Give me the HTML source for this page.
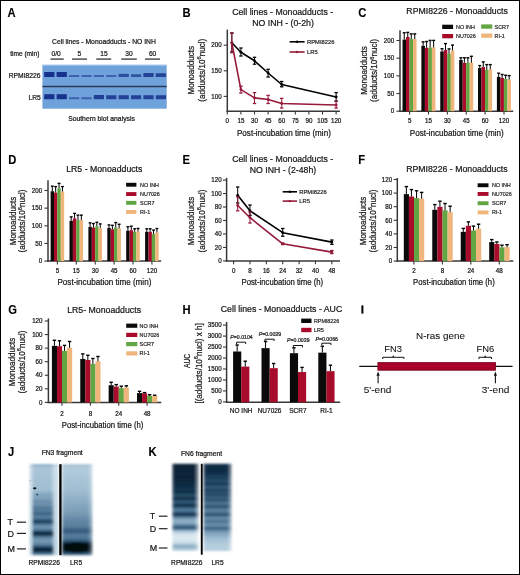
<!DOCTYPE html>
<html><head><meta charset="utf-8"><style>
html,body{margin:0;padding:0;background:#fff;}
body{width:520px;height:575px;overflow:hidden;font-family:"Liberation Sans", sans-serif;}
svg{display:block;will-change:transform;}

</style></head><body>
<svg width="520" height="575" viewBox="0 0 520 575" font-family='"Liberation Sans", sans-serif'>
<defs>
<filter id="bl1" x="-20%" y="-50%" width="140%" height="200%"><feGaussianBlur stdDeviation="0.6"/></filter>
<filter id="bl2" x="-20%" y="-50%" width="140%" height="200%"><feGaussianBlur stdDeviation="1.2"/></filter>
<filter id="bl3" x="-30%" y="-80%" width="160%" height="260%"><feGaussianBlur stdDeviation="2"/></filter>
<filter id="blg" x="-10%" y="-5%" width="120%" height="110%"><feGaussianBlur stdDeviation="0.8"/></filter>
</defs>
<rect x="0" y="0" width="520" height="575" fill="#fff"/>
<text transform="translate(7.6,16.9) scale(0.92,1)" font-size="12.2" text-anchor="start" font-weight="bold" fill="#000" stroke="#000" stroke-width="0.1">A</text>
<text transform="translate(52,43.81) scale(0.97,1)" font-size="7" text-anchor="start" font-weight="normal" fill="#151515" stroke="#151515" stroke-width="0.22">Cell lines - Monoadducts - NO INH</text>
<text transform="translate(10.2,55.71) scale(0.94,1)" font-size="7" text-anchor="start" font-weight="normal" fill="#151515" stroke="#151515" stroke-width="0.22">time (min)</text>
<text transform="translate(56.1,55.71) scale(0.95,1)" font-size="7" text-anchor="middle" font-weight="normal" fill="#151515" stroke="#151515" stroke-width="0.22">0/0</text>
<text transform="translate(79.3,55.71) scale(0.95,1)" font-size="7" text-anchor="middle" font-weight="normal" fill="#151515" stroke="#151515" stroke-width="0.22">5</text>
<text transform="translate(103.9,55.71) scale(0.95,1)" font-size="7" text-anchor="middle" font-weight="normal" fill="#151515" stroke="#151515" stroke-width="0.22">15</text>
<text transform="translate(128.9,55.71) scale(0.95,1)" font-size="7" text-anchor="middle" font-weight="normal" fill="#151515" stroke="#151515" stroke-width="0.22">30</text>
<text transform="translate(152.6,55.71) scale(0.95,1)" font-size="7" text-anchor="middle" font-weight="normal" fill="#151515" stroke="#151515" stroke-width="0.22">60</text>
<line x1="50.5" y1="59.1" x2="63.75" y2="59.1" stroke="#444" stroke-width="1.4"/>
<line x1="72" y1="59.1" x2="87" y2="59.1" stroke="#444" stroke-width="1.4"/>
<line x1="96.25" y1="59.1" x2="111.25" y2="59.1" stroke="#444" stroke-width="1.4"/>
<line x1="121.25" y1="59.1" x2="136.75" y2="59.1" stroke="#444" stroke-width="1.4"/>
<line x1="145" y1="59.1" x2="160" y2="59.1" stroke="#444" stroke-width="1.4"/>
<text transform="translate(8.7,78.01) scale(0.96,1)" font-size="7" text-anchor="start" font-weight="normal" fill="#151515" stroke="#151515" stroke-width="0.22">RPMI8226</text>
<text transform="translate(28.4,100.21) scale(0.96,1)" font-size="7" text-anchor="start" font-weight="normal" fill="#151515" stroke="#151515" stroke-width="0.22">LR5</text>
<text transform="translate(101.5,121.01) scale(0.97,1)" font-size="7" text-anchor="middle" font-weight="normal" fill="#151515" stroke="#151515" stroke-width="0.22">Southern blot analysis</text>
<rect x="42.4" y="64.8" width="124.3" height="43.9" fill="#6fa2db"/>
<rect x="42.4" y="64.8" width="124.3" height="1" fill="#a3c4ee"/>
<line x1="42.4" y1="86.5" x2="166.7" y2="86.5" stroke="#2a3852" stroke-width="1.4"/>
<rect x="44.2" y="72" width="10.2" height="5" fill="#17308c" opacity="1" filter="url(#bl1)"/>
<rect x="44.2" y="94.2" width="10.2" height="5" fill="#17308c" opacity="1" filter="url(#bl1)"/>
<rect x="56.6" y="72" width="10.2" height="5" fill="#17308c" opacity="1" filter="url(#bl1)"/>
<rect x="56.6" y="94.2" width="10.2" height="5" fill="#17308c" opacity="1" filter="url(#bl1)"/>
<rect x="69" y="75.08" width="10.2" height="1.92" fill="#17308c" opacity="0.59" filter="url(#bl1)"/>
<rect x="69" y="97.28" width="10.2" height="1.92" fill="#17308c" opacity="0.59" filter="url(#bl1)"/>
<rect x="81.4" y="75.08" width="10.2" height="1.92" fill="#17308c" opacity="0.59" filter="url(#bl1)"/>
<rect x="81.4" y="97.28" width="10.2" height="1.92" fill="#17308c" opacity="0.59" filter="url(#bl1)"/>
<rect x="93.8" y="75.08" width="10.2" height="1.92" fill="#17308c" opacity="0.59" filter="url(#bl1)"/>
<rect x="93.8" y="95.02" width="10.2" height="4.18" fill="#17308c" opacity="0.89" filter="url(#bl1)"/>
<rect x="106.2" y="75.08" width="10.2" height="1.92" fill="#17308c" opacity="0.59" filter="url(#bl1)"/>
<rect x="106.2" y="95.23" width="10.2" height="3.97" fill="#17308c" opacity="0.86" filter="url(#bl1)"/>
<rect x="118.6" y="73.84" width="10.2" height="3.15" fill="#17308c" opacity="0.75" filter="url(#bl1)"/>
<rect x="118.6" y="95.23" width="10.2" height="3.97" fill="#17308c" opacity="0.86" filter="url(#bl1)"/>
<rect x="131" y="74.25" width="10.2" height="2.75" fill="#17308c" opacity="0.7" filter="url(#bl1)"/>
<rect x="131" y="95.23" width="10.2" height="3.97" fill="#17308c" opacity="0.86" filter="url(#bl1)"/>
<rect x="143.4" y="73.03" width="10.2" height="3.97" fill="#17308c" opacity="0.86" filter="url(#bl1)"/>
<rect x="143.4" y="95.23" width="10.2" height="3.97" fill="#17308c" opacity="0.86" filter="url(#bl1)"/>
<rect x="155.8" y="73.23" width="10.2" height="3.77" fill="#17308c" opacity="0.83" filter="url(#bl1)"/>
<rect x="155.8" y="95.23" width="10.2" height="3.97" fill="#17308c" opacity="0.86" filter="url(#bl1)"/>
<text transform="translate(182.6,16.8) scale(0.92,1)" font-size="12.2" text-anchor="start" font-weight="bold" fill="#000" stroke="#000" stroke-width="0.1">B</text>
<text transform="translate(282.7,14.96) scale(0.95,1)" font-size="9.2" text-anchor="middle" font-weight="normal" fill="#151515" stroke="#151515" stroke-width="0.22">Cell lines - Monoadducts -</text>
<text transform="translate(283,26.06) scale(0.95,1)" font-size="9.2" text-anchor="middle" font-weight="normal" fill="#151515" stroke="#151515" stroke-width="0.22">NO INH - (0-2h)</text>
<text transform="translate(194.49,70.2) rotate(-90) scale(0.93,1)" font-size="8.7" text-anchor="middle" fill="#151515" stroke="#151515" stroke-width="0.22">Monoadducts</text>
<text transform="translate(204.59,70.2) rotate(-90) scale(0.93,1)" font-size="8.7" text-anchor="middle" fill="#151515" stroke="#151515" stroke-width="0.22">(adducts/10<tspan font-size="6.09" dy="-3.31">6</tspan><tspan dy="3.31">nucl)</tspan></text>
<line x1="227.3" y1="29.6" x2="227.3" y2="111.95" stroke="#383838" stroke-width="1.5"/>
<line x1="223.7" y1="96.4" x2="227.3" y2="96.4" stroke="#383838" stroke-width="1.1"/>
<text transform="translate(221.6,98.6) scale(0.97,1)" font-size="6.4" text-anchor="end" font-weight="normal" fill="#151515" stroke="#151515" stroke-width="0.22">100</text>
<line x1="223.7" y1="70.8" x2="227.3" y2="70.8" stroke="#383838" stroke-width="1.1"/>
<text transform="translate(221.6,73) scale(0.97,1)" font-size="6.4" text-anchor="end" font-weight="normal" fill="#151515" stroke="#151515" stroke-width="0.22">150</text>
<line x1="223.7" y1="45.2" x2="227.3" y2="45.2" stroke="#383838" stroke-width="1.1"/>
<text transform="translate(221.6,47.4) scale(0.97,1)" font-size="6.4" text-anchor="end" font-weight="normal" fill="#151515" stroke="#151515" stroke-width="0.22">200</text>
<line x1="226.55" y1="111.2" x2="339.9" y2="111.2" stroke="#383838" stroke-width="1.5"/>
<line x1="227.3" y1="111.2" x2="227.3" y2="114.5" stroke="#383838" stroke-width="1.1"/>
<text transform="translate(227.3,122.8) scale(0.97,1)" font-size="6.4" text-anchor="middle" font-weight="normal" fill="#151515" stroke="#151515" stroke-width="0.22">0</text>
<line x1="240.91" y1="111.2" x2="240.91" y2="114.5" stroke="#383838" stroke-width="1.1"/>
<text transform="translate(240.91,122.8) scale(0.97,1)" font-size="6.4" text-anchor="middle" font-weight="normal" fill="#151515" stroke="#151515" stroke-width="0.22">15</text>
<line x1="254.51" y1="111.2" x2="254.51" y2="114.5" stroke="#383838" stroke-width="1.1"/>
<text transform="translate(254.51,122.8) scale(0.97,1)" font-size="6.4" text-anchor="middle" font-weight="normal" fill="#151515" stroke="#151515" stroke-width="0.22">30</text>
<line x1="268.12" y1="111.2" x2="268.12" y2="114.5" stroke="#383838" stroke-width="1.1"/>
<text transform="translate(268.12,122.8) scale(0.97,1)" font-size="6.4" text-anchor="middle" font-weight="normal" fill="#151515" stroke="#151515" stroke-width="0.22">45</text>
<line x1="281.72" y1="111.2" x2="281.72" y2="114.5" stroke="#383838" stroke-width="1.1"/>
<text transform="translate(281.72,122.8) scale(0.97,1)" font-size="6.4" text-anchor="middle" font-weight="normal" fill="#151515" stroke="#151515" stroke-width="0.22">60</text>
<line x1="295.33" y1="111.2" x2="295.33" y2="114.5" stroke="#383838" stroke-width="1.1"/>
<text transform="translate(295.33,122.8) scale(0.97,1)" font-size="6.4" text-anchor="middle" font-weight="normal" fill="#151515" stroke="#151515" stroke-width="0.22">75</text>
<line x1="308.93" y1="111.2" x2="308.93" y2="114.5" stroke="#383838" stroke-width="1.1"/>
<text transform="translate(308.93,122.8) scale(0.97,1)" font-size="6.4" text-anchor="middle" font-weight="normal" fill="#151515" stroke="#151515" stroke-width="0.22">90</text>
<line x1="322.54" y1="111.2" x2="322.54" y2="114.5" stroke="#383838" stroke-width="1.1"/>
<text transform="translate(322.54,122.8) scale(0.97,1)" font-size="6.4" text-anchor="middle" font-weight="normal" fill="#151515" stroke="#151515" stroke-width="0.22">105</text>
<line x1="336.14" y1="111.2" x2="336.14" y2="114.5" stroke="#383838" stroke-width="1.1"/>
<text transform="translate(336.14,122.8) scale(0.97,1)" font-size="6.4" text-anchor="middle" font-weight="normal" fill="#151515" stroke="#151515" stroke-width="0.22">120</text>
<text transform="translate(283.9,135.69) scale(0.93,1)" font-size="8.7" text-anchor="middle" font-weight="normal" fill="#151515" stroke="#151515" stroke-width="0.22">Post-incubation time (min)</text>
<polyline points="231.84,42.8 240.91,52.2 254.51,60.8 268.12,73 281.72,84.5 336.14,97" fill="none" stroke="#000" stroke-width="1.6" stroke-linejoin="round"/>
<line x1="231.84" y1="33" x2="231.84" y2="52" stroke="#000" stroke-width="1"/>
<line x1="230.14" y1="33" x2="233.53" y2="33" stroke="#000" stroke-width="1.3"/>
<line x1="230.14" y1="52" x2="233.53" y2="52" stroke="#000" stroke-width="1.3"/>
<circle cx="231.84" cy="42.8" r="1.4" fill="#000"/>
<line x1="240.91" y1="48" x2="240.91" y2="56" stroke="#000" stroke-width="1"/>
<line x1="239.21" y1="48" x2="242.6" y2="48" stroke="#000" stroke-width="1.3"/>
<line x1="239.21" y1="56" x2="242.6" y2="56" stroke="#000" stroke-width="1.3"/>
<circle cx="240.91" cy="52.2" r="1.4" fill="#000"/>
<line x1="254.51" y1="57.3" x2="254.51" y2="64.2" stroke="#000" stroke-width="1"/>
<line x1="252.81" y1="57.3" x2="256.21" y2="57.3" stroke="#000" stroke-width="1.3"/>
<line x1="252.81" y1="64.2" x2="256.21" y2="64.2" stroke="#000" stroke-width="1.3"/>
<circle cx="254.51" cy="60.8" r="1.4" fill="#000"/>
<line x1="268.12" y1="69.3" x2="268.12" y2="77" stroke="#000" stroke-width="1"/>
<line x1="266.42" y1="69.3" x2="269.81" y2="69.3" stroke="#000" stroke-width="1.3"/>
<line x1="266.42" y1="77" x2="269.81" y2="77" stroke="#000" stroke-width="1.3"/>
<circle cx="268.12" cy="73" r="1.4" fill="#000"/>
<line x1="281.72" y1="81.5" x2="281.72" y2="86.8" stroke="#000" stroke-width="1"/>
<line x1="280.02" y1="81.5" x2="283.42" y2="81.5" stroke="#000" stroke-width="1.3"/>
<line x1="280.02" y1="86.8" x2="283.42" y2="86.8" stroke="#000" stroke-width="1.3"/>
<circle cx="281.72" cy="84.5" r="1.4" fill="#000"/>
<line x1="336.14" y1="92.6" x2="336.14" y2="101.2" stroke="#000" stroke-width="1"/>
<line x1="334.44" y1="92.6" x2="337.84" y2="92.6" stroke="#000" stroke-width="1.3"/>
<line x1="334.44" y1="101.2" x2="337.84" y2="101.2" stroke="#000" stroke-width="1.3"/>
<circle cx="336.14" cy="97" r="1.4" fill="#000"/>
<polyline points="231.84,42.8 240.91,89.6 254.51,97.9 268.12,99.5 281.72,103.5 336.14,105" fill="none" stroke="#951a3a" stroke-width="1.6" stroke-linejoin="round"/>
<line x1="231.84" y1="33" x2="231.84" y2="52.7" stroke="#951a3a" stroke-width="1"/>
<line x1="230.14" y1="33" x2="233.53" y2="33" stroke="#951a3a" stroke-width="1.3"/>
<line x1="230.14" y1="52.7" x2="233.53" y2="52.7" stroke="#951a3a" stroke-width="1.3"/>
<circle cx="231.84" cy="42.8" r="1.4" fill="#951a3a"/>
<line x1="240.91" y1="86.2" x2="240.91" y2="93" stroke="#951a3a" stroke-width="1"/>
<line x1="239.21" y1="86.2" x2="242.6" y2="86.2" stroke="#951a3a" stroke-width="1.3"/>
<line x1="239.21" y1="93" x2="242.6" y2="93" stroke="#951a3a" stroke-width="1.3"/>
<circle cx="240.91" cy="89.6" r="1.4" fill="#951a3a"/>
<line x1="254.51" y1="92.6" x2="254.51" y2="103.5" stroke="#951a3a" stroke-width="1"/>
<line x1="252.81" y1="92.6" x2="256.21" y2="92.6" stroke="#951a3a" stroke-width="1.3"/>
<line x1="252.81" y1="103.5" x2="256.21" y2="103.5" stroke="#951a3a" stroke-width="1.3"/>
<circle cx="254.51" cy="97.9" r="1.4" fill="#951a3a"/>
<line x1="268.12" y1="95.4" x2="268.12" y2="103.5" stroke="#951a3a" stroke-width="1"/>
<line x1="266.42" y1="95.4" x2="269.81" y2="95.4" stroke="#951a3a" stroke-width="1.3"/>
<line x1="266.42" y1="103.5" x2="269.81" y2="103.5" stroke="#951a3a" stroke-width="1.3"/>
<circle cx="268.12" cy="99.5" r="1.4" fill="#951a3a"/>
<line x1="281.72" y1="98.4" x2="281.72" y2="108" stroke="#951a3a" stroke-width="1"/>
<line x1="280.02" y1="98.4" x2="283.42" y2="98.4" stroke="#951a3a" stroke-width="1.3"/>
<line x1="280.02" y1="108" x2="283.42" y2="108" stroke="#951a3a" stroke-width="1.3"/>
<circle cx="281.72" cy="103.5" r="1.4" fill="#951a3a"/>
<line x1="336.14" y1="101.2" x2="336.14" y2="108" stroke="#951a3a" stroke-width="1"/>
<line x1="334.44" y1="101.2" x2="337.84" y2="101.2" stroke="#951a3a" stroke-width="1.3"/>
<line x1="334.44" y1="108" x2="337.84" y2="108" stroke="#951a3a" stroke-width="1.3"/>
<circle cx="336.14" cy="105" r="1.4" fill="#951a3a"/>
<line x1="289.6" y1="41.8" x2="304.6" y2="41.8" stroke="#000" stroke-width="1.6"/>
<circle cx="297.1" cy="41.8" r="1.2" fill="#000"/>
<text transform="translate(307,43.8) scale(1,1)" font-size="5.8" text-anchor="start" font-weight="normal" fill="#2a2a2a" stroke="#2a2a2a" stroke-width="0.22">RPMI8226</text>
<line x1="289.6" y1="52" x2="304.6" y2="52" stroke="#951a3a" stroke-width="1.6"/>
<circle cx="297.1" cy="52" r="1.2" fill="#951a3a"/>
<text transform="translate(307,54) scale(1,1)" font-size="5.8" text-anchor="start" font-weight="normal" fill="#2a2a2a" stroke="#2a2a2a" stroke-width="0.22">LR5</text>
<text transform="translate(358.3,16.8) scale(0.92,1)" font-size="12.2" text-anchor="start" font-weight="bold" fill="#000" stroke="#000" stroke-width="0.1">C</text>
<text transform="translate(457.1,14.26) scale(0.95,1)" font-size="9.2" text-anchor="middle" font-weight="normal" fill="#151515" stroke="#151515" stroke-width="0.22">RPMI8226 - Monoadducts</text>
<rect x="442.2" y="24.7" width="10.9" height="4.3" fill="#0a0a0a"/>
<text transform="translate(456,28.85) scale(0.93,1)" font-size="5.8" text-anchor="start" font-weight="normal" fill="#2a2a2a" stroke="#2a2a2a" stroke-width="0.22">NO INH</text>
<rect x="442.2" y="34" width="10.9" height="4.3" fill="#a80c2a"/>
<text transform="translate(456,38.15) scale(0.93,1)" font-size="5.8" text-anchor="start" font-weight="normal" fill="#2a2a2a" stroke="#2a2a2a" stroke-width="0.22">NU7026</text>
<rect x="481.2" y="24.4" width="11.1" height="4.3" fill="#62a644"/>
<text transform="translate(494.6,28.6) scale(0.93,1)" font-size="5.8" text-anchor="start" font-weight="normal" fill="#2a2a2a" stroke="#2a2a2a" stroke-width="0.22">SCR7</text>
<rect x="481.2" y="33.5" width="11.1" height="4.3" fill="#efb57a"/>
<text transform="translate(494.6,37.7) scale(0.93,1)" font-size="5.8" text-anchor="start" font-weight="normal" fill="#2a2a2a" stroke="#2a2a2a" stroke-width="0.22">RI-1</text>
<text transform="translate(367.09,70.5) rotate(-90) scale(0.93,1)" font-size="8.7" text-anchor="middle" fill="#151515" stroke="#151515" stroke-width="0.22">Monoadducts</text>
<text transform="translate(377.29,70.5) rotate(-90) scale(0.93,1)" font-size="8.7" text-anchor="middle" fill="#151515" stroke="#151515" stroke-width="0.22">(adducts/10<tspan font-size="6.09" dy="-3.31">6</tspan><tspan dy="3.31">nucl)</tspan></text>
<line x1="400" y1="30.2" x2="400" y2="111.95" stroke="#383838" stroke-width="1.5"/>
<line x1="396.4" y1="111.2" x2="400" y2="111.2" stroke="#383838" stroke-width="1.1"/>
<text transform="translate(394.2,113.4) scale(0.97,1)" font-size="6.4" text-anchor="end" font-weight="normal" fill="#151515" stroke="#151515" stroke-width="0.22">0</text>
<line x1="396.4" y1="93.53" x2="400" y2="93.53" stroke="#383838" stroke-width="1.1"/>
<text transform="translate(394.2,95.73) scale(0.97,1)" font-size="6.4" text-anchor="end" font-weight="normal" fill="#151515" stroke="#151515" stroke-width="0.22">50</text>
<line x1="396.4" y1="75.85" x2="400" y2="75.85" stroke="#383838" stroke-width="1.1"/>
<text transform="translate(394.2,78.05) scale(0.97,1)" font-size="6.4" text-anchor="end" font-weight="normal" fill="#151515" stroke="#151515" stroke-width="0.22">100</text>
<line x1="396.4" y1="58.18" x2="400" y2="58.18" stroke="#383838" stroke-width="1.1"/>
<text transform="translate(394.2,60.38) scale(0.97,1)" font-size="6.4" text-anchor="end" font-weight="normal" fill="#151515" stroke="#151515" stroke-width="0.22">150</text>
<line x1="396.4" y1="40.5" x2="400" y2="40.5" stroke="#383838" stroke-width="1.1"/>
<text transform="translate(394.2,42.7) scale(0.97,1)" font-size="6.4" text-anchor="end" font-weight="normal" fill="#151515" stroke="#151515" stroke-width="0.22">200</text>
<line x1="399.25" y1="111.2" x2="513.2" y2="111.2" stroke="#383838" stroke-width="1.5"/>
<line x1="409.6" y1="111.2" x2="409.6" y2="114.5" stroke="#383838" stroke-width="1.1"/>
<text transform="translate(409.6,123.2) scale(0.97,1)" font-size="6.4" text-anchor="middle" font-weight="normal" fill="#151515" stroke="#151515" stroke-width="0.22">5</text>
<line x1="428.48" y1="111.2" x2="428.48" y2="114.5" stroke="#383838" stroke-width="1.1"/>
<text transform="translate(428.48,123.2) scale(0.97,1)" font-size="6.4" text-anchor="middle" font-weight="normal" fill="#151515" stroke="#151515" stroke-width="0.22">15</text>
<line x1="447.36" y1="111.2" x2="447.36" y2="114.5" stroke="#383838" stroke-width="1.1"/>
<text transform="translate(447.36,123.2) scale(0.97,1)" font-size="6.4" text-anchor="middle" font-weight="normal" fill="#151515" stroke="#151515" stroke-width="0.22">30</text>
<line x1="466.24" y1="111.2" x2="466.24" y2="114.5" stroke="#383838" stroke-width="1.1"/>
<text transform="translate(466.24,123.2) scale(0.97,1)" font-size="6.4" text-anchor="middle" font-weight="normal" fill="#151515" stroke="#151515" stroke-width="0.22">45</text>
<line x1="485.12" y1="111.2" x2="485.12" y2="114.5" stroke="#383838" stroke-width="1.1"/>
<text transform="translate(485.12,123.2) scale(0.97,1)" font-size="6.4" text-anchor="middle" font-weight="normal" fill="#151515" stroke="#151515" stroke-width="0.22">60</text>
<line x1="504" y1="111.2" x2="504" y2="114.5" stroke="#383838" stroke-width="1.1"/>
<text transform="translate(504,123.2) scale(0.97,1)" font-size="6.4" text-anchor="middle" font-weight="normal" fill="#151515" stroke="#151515" stroke-width="0.22">120</text>
<text transform="translate(456.8,135.69) scale(0.93,1)" font-size="8.7" text-anchor="middle" font-weight="normal" fill="#151515" stroke="#151515" stroke-width="0.22">Post-incubation time (min)</text>
<rect x="402.5" y="39.62" width="3.55" height="71.58" fill="#0a0a0a"/>
<line x1="404.25" y1="32.8" x2="404.25" y2="39.62" stroke="#000" stroke-width="1"/>
<line x1="402.76" y1="32.8" x2="405.74" y2="32.8" stroke="#000" stroke-width="1.4"/>
<rect x="406" y="36.97" width="3.55" height="74.23" fill="#a80c2a"/>
<line x1="407.75" y1="32.4" x2="407.75" y2="36.97" stroke="#000" stroke-width="1"/>
<line x1="406.26" y1="32.4" x2="409.24" y2="32.4" stroke="#000" stroke-width="1.4"/>
<rect x="409.5" y="39.09" width="3.55" height="72.11" fill="#62a644"/>
<line x1="411.25" y1="33.9" x2="411.25" y2="39.09" stroke="#000" stroke-width="1"/>
<line x1="409.76" y1="33.9" x2="412.74" y2="33.9" stroke="#000" stroke-width="1.4"/>
<rect x="413" y="39.09" width="3.55" height="72.11" fill="#efb57a"/>
<line x1="414.75" y1="33.9" x2="414.75" y2="39.09" stroke="#000" stroke-width="1"/>
<line x1="413.26" y1="33.9" x2="416.24" y2="33.9" stroke="#000" stroke-width="1.4"/>
<rect x="421.38" y="45.8" width="3.55" height="65.4" fill="#0a0a0a"/>
<line x1="423.13" y1="41.9" x2="423.13" y2="45.8" stroke="#000" stroke-width="1"/>
<line x1="421.64" y1="41.9" x2="424.62" y2="41.9" stroke="#000" stroke-width="1.4"/>
<rect x="424.88" y="47.92" width="3.55" height="63.28" fill="#a80c2a"/>
<line x1="426.63" y1="41.5" x2="426.63" y2="47.92" stroke="#000" stroke-width="1"/>
<line x1="425.14" y1="41.5" x2="428.12" y2="41.5" stroke="#000" stroke-width="1.4"/>
<rect x="428.38" y="47.57" width="3.55" height="63.63" fill="#62a644"/>
<line x1="430.13" y1="40.4" x2="430.13" y2="47.57" stroke="#000" stroke-width="1"/>
<line x1="428.64" y1="40.4" x2="431.62" y2="40.4" stroke="#000" stroke-width="1.4"/>
<rect x="431.88" y="47.57" width="3.55" height="63.63" fill="#efb57a"/>
<line x1="433.63" y1="40.4" x2="433.63" y2="47.57" stroke="#000" stroke-width="1"/>
<line x1="432.14" y1="40.4" x2="435.12" y2="40.4" stroke="#000" stroke-width="1.4"/>
<rect x="440.26" y="51.46" width="3.55" height="59.74" fill="#0a0a0a"/>
<line x1="442.01" y1="48.7" x2="442.01" y2="51.46" stroke="#000" stroke-width="1"/>
<line x1="440.52" y1="48.7" x2="443.5" y2="48.7" stroke="#000" stroke-width="1.4"/>
<rect x="443.76" y="50.04" width="3.55" height="61.16" fill="#a80c2a"/>
<line x1="445.51" y1="43.6" x2="445.51" y2="50.04" stroke="#000" stroke-width="1"/>
<line x1="444.02" y1="43.6" x2="447" y2="43.6" stroke="#000" stroke-width="1.4"/>
<rect x="447.26" y="53.93" width="3.55" height="57.27" fill="#62a644"/>
<line x1="449.01" y1="48.9" x2="449.01" y2="53.93" stroke="#000" stroke-width="1"/>
<line x1="447.52" y1="48.9" x2="450.5" y2="48.9" stroke="#000" stroke-width="1.4"/>
<rect x="450.76" y="50.4" width="3.55" height="60.8" fill="#efb57a"/>
<line x1="452.51" y1="45.1" x2="452.51" y2="50.4" stroke="#000" stroke-width="1"/>
<line x1="451.02" y1="45.1" x2="454" y2="45.1" stroke="#000" stroke-width="1.4"/>
<rect x="459.14" y="59.94" width="3.55" height="51.26" fill="#0a0a0a"/>
<line x1="460.89" y1="57.8" x2="460.89" y2="59.94" stroke="#000" stroke-width="1"/>
<line x1="459.4" y1="57.8" x2="462.38" y2="57.8" stroke="#000" stroke-width="1.4"/>
<rect x="462.64" y="62.77" width="3.55" height="48.43" fill="#a80c2a"/>
<line x1="464.39" y1="57.8" x2="464.39" y2="62.77" stroke="#000" stroke-width="1"/>
<line x1="462.9" y1="57.8" x2="465.88" y2="57.8" stroke="#000" stroke-width="1.4"/>
<rect x="466.14" y="62.77" width="3.55" height="48.43" fill="#62a644"/>
<line x1="467.89" y1="57.8" x2="467.89" y2="62.77" stroke="#000" stroke-width="1"/>
<line x1="466.4" y1="57.8" x2="469.38" y2="57.8" stroke="#000" stroke-width="1.4"/>
<rect x="469.64" y="62.77" width="3.55" height="48.43" fill="#efb57a"/>
<line x1="471.39" y1="56.3" x2="471.39" y2="62.77" stroke="#000" stroke-width="1"/>
<line x1="469.9" y1="56.3" x2="472.88" y2="56.3" stroke="#000" stroke-width="1.4"/>
<rect x="478.02" y="68.07" width="3.55" height="43.13" fill="#0a0a0a"/>
<line x1="479.77" y1="65.6" x2="479.77" y2="68.07" stroke="#000" stroke-width="1"/>
<line x1="478.28" y1="65.6" x2="481.26" y2="65.6" stroke="#000" stroke-width="1.4"/>
<rect x="481.52" y="67.01" width="3.55" height="44.19" fill="#a80c2a"/>
<line x1="483.27" y1="61.9" x2="483.27" y2="67.01" stroke="#000" stroke-width="1"/>
<line x1="481.78" y1="61.9" x2="484.76" y2="61.9" stroke="#000" stroke-width="1.4"/>
<rect x="485.02" y="69.84" width="3.55" height="41.36" fill="#62a644"/>
<line x1="486.77" y1="64.6" x2="486.77" y2="69.84" stroke="#000" stroke-width="1"/>
<line x1="485.28" y1="64.6" x2="488.26" y2="64.6" stroke="#000" stroke-width="1.4"/>
<rect x="488.52" y="69.49" width="3.55" height="41.71" fill="#efb57a"/>
<line x1="490.27" y1="64.6" x2="490.27" y2="69.49" stroke="#000" stroke-width="1"/>
<line x1="488.78" y1="64.6" x2="491.76" y2="64.6" stroke="#000" stroke-width="1.4"/>
<rect x="496.9" y="76.91" width="3.55" height="34.29" fill="#0a0a0a"/>
<line x1="498.65" y1="73.2" x2="498.65" y2="76.91" stroke="#000" stroke-width="1"/>
<line x1="497.16" y1="73.2" x2="500.14" y2="73.2" stroke="#000" stroke-width="1.4"/>
<rect x="500.4" y="77.97" width="3.55" height="33.23" fill="#a80c2a"/>
<line x1="502.15" y1="74.5" x2="502.15" y2="77.97" stroke="#000" stroke-width="1"/>
<line x1="500.66" y1="74.5" x2="503.64" y2="74.5" stroke="#000" stroke-width="1.4"/>
<rect x="503.9" y="79.03" width="3.55" height="32.17" fill="#62a644"/>
<line x1="505.65" y1="75.3" x2="505.65" y2="79.03" stroke="#000" stroke-width="1"/>
<line x1="504.16" y1="75.3" x2="507.14" y2="75.3" stroke="#000" stroke-width="1.4"/>
<rect x="507.4" y="79.74" width="3.55" height="31.46" fill="#efb57a"/>
<line x1="509.15" y1="75.6" x2="509.15" y2="79.74" stroke="#000" stroke-width="1"/>
<line x1="507.66" y1="75.6" x2="510.64" y2="75.6" stroke="#000" stroke-width="1.4"/>
<text transform="translate(8.2,164.2) scale(0.92,1)" font-size="12.2" text-anchor="start" font-weight="bold" fill="#000" stroke="#000" stroke-width="0.1">D</text>
<text transform="translate(104.3,172.36) scale(0.95,1)" font-size="9.2" text-anchor="middle" font-weight="normal" fill="#151515" stroke="#151515" stroke-width="0.22">LR5 - Monoadducts</text>
<rect x="126.1" y="182.8" width="10.3" height="3.9" fill="#0a0a0a"/>
<text transform="translate(140.1,186.75) scale(0.93,1)" font-size="5.8" text-anchor="start" font-weight="normal" fill="#2a2a2a" stroke="#2a2a2a" stroke-width="0.22">NO INH</text>
<rect x="126.1" y="192.1" width="10.3" height="3.9" fill="#a80c2a"/>
<text transform="translate(140.1,196.05) scale(0.93,1)" font-size="5.8" text-anchor="start" font-weight="normal" fill="#2a2a2a" stroke="#2a2a2a" stroke-width="0.22">NU7026</text>
<rect x="126.1" y="200.9" width="10.3" height="3.9" fill="#62a644"/>
<text transform="translate(140.1,204.85) scale(0.93,1)" font-size="5.8" text-anchor="start" font-weight="normal" fill="#2a2a2a" stroke="#2a2a2a" stroke-width="0.22">SCR7</text>
<rect x="126.1" y="210" width="10.3" height="3.9" fill="#efb57a"/>
<text transform="translate(140.1,213.95) scale(0.93,1)" font-size="5.8" text-anchor="start" font-weight="normal" fill="#2a2a2a" stroke="#2a2a2a" stroke-width="0.22">RI-1</text>
<text transform="translate(15.79,221) rotate(-90) scale(0.93,1)" font-size="8.7" text-anchor="middle" fill="#151515" stroke="#151515" stroke-width="0.22">Monoadducts</text>
<text transform="translate(25.19,221) rotate(-90) scale(0.93,1)" font-size="8.7" text-anchor="middle" fill="#151515" stroke="#151515" stroke-width="0.22">(adducts/10<tspan font-size="6.09" dy="-3.31">6</tspan><tspan dy="3.31">nucl)</tspan></text>
<line x1="48" y1="180.3" x2="48" y2="261.85" stroke="#383838" stroke-width="1.5"/>
<line x1="44.4" y1="261.1" x2="48" y2="261.1" stroke="#383838" stroke-width="1.1"/>
<text transform="translate(42.2,263.3) scale(0.97,1)" font-size="6.4" text-anchor="end" font-weight="normal" fill="#151515" stroke="#151515" stroke-width="0.22">0</text>
<line x1="44.4" y1="243.45" x2="48" y2="243.45" stroke="#383838" stroke-width="1.1"/>
<text transform="translate(42.2,245.65) scale(0.97,1)" font-size="6.4" text-anchor="end" font-weight="normal" fill="#151515" stroke="#151515" stroke-width="0.22">50</text>
<line x1="44.4" y1="225.8" x2="48" y2="225.8" stroke="#383838" stroke-width="1.1"/>
<text transform="translate(42.2,228) scale(0.97,1)" font-size="6.4" text-anchor="end" font-weight="normal" fill="#151515" stroke="#151515" stroke-width="0.22">100</text>
<line x1="44.4" y1="208.15" x2="48" y2="208.15" stroke="#383838" stroke-width="1.1"/>
<text transform="translate(42.2,210.35) scale(0.97,1)" font-size="6.4" text-anchor="end" font-weight="normal" fill="#151515" stroke="#151515" stroke-width="0.22">150</text>
<line x1="44.4" y1="190.5" x2="48" y2="190.5" stroke="#383838" stroke-width="1.1"/>
<text transform="translate(42.2,192.7) scale(0.97,1)" font-size="6.4" text-anchor="end" font-weight="normal" fill="#151515" stroke="#151515" stroke-width="0.22">200</text>
<line x1="47.25" y1="261.1" x2="161.1" y2="261.1" stroke="#383838" stroke-width="1.5"/>
<line x1="57.4" y1="261.1" x2="57.4" y2="264.4" stroke="#383838" stroke-width="1.1"/>
<text transform="translate(57.4,273) scale(0.97,1)" font-size="6.4" text-anchor="middle" font-weight="normal" fill="#151515" stroke="#151515" stroke-width="0.22">5</text>
<line x1="76.3" y1="261.1" x2="76.3" y2="264.4" stroke="#383838" stroke-width="1.1"/>
<text transform="translate(76.3,273) scale(0.97,1)" font-size="6.4" text-anchor="middle" font-weight="normal" fill="#151515" stroke="#151515" stroke-width="0.22">15</text>
<line x1="95.2" y1="261.1" x2="95.2" y2="264.4" stroke="#383838" stroke-width="1.1"/>
<text transform="translate(95.2,273) scale(0.97,1)" font-size="6.4" text-anchor="middle" font-weight="normal" fill="#151515" stroke="#151515" stroke-width="0.22">30</text>
<line x1="114.1" y1="261.1" x2="114.1" y2="264.4" stroke="#383838" stroke-width="1.1"/>
<text transform="translate(114.1,273) scale(0.97,1)" font-size="6.4" text-anchor="middle" font-weight="normal" fill="#151515" stroke="#151515" stroke-width="0.22">45</text>
<line x1="133" y1="261.1" x2="133" y2="264.4" stroke="#383838" stroke-width="1.1"/>
<text transform="translate(133,273) scale(0.97,1)" font-size="6.4" text-anchor="middle" font-weight="normal" fill="#151515" stroke="#151515" stroke-width="0.22">60</text>
<line x1="151.9" y1="261.1" x2="151.9" y2="264.4" stroke="#383838" stroke-width="1.1"/>
<text transform="translate(151.9,273) scale(0.97,1)" font-size="6.4" text-anchor="middle" font-weight="normal" fill="#151515" stroke="#151515" stroke-width="0.22">120</text>
<text transform="translate(104.4,284.99) scale(0.93,1)" font-size="8.7" text-anchor="middle" font-weight="normal" fill="#151515" stroke="#151515" stroke-width="0.22">Post-incubation time (min)</text>
<rect x="50.6" y="191.21" width="3.43" height="69.89" fill="#0a0a0a"/>
<line x1="52.29" y1="186.21" x2="52.29" y2="191.21" stroke="#000" stroke-width="1"/>
<line x1="50.85" y1="186.21" x2="53.73" y2="186.21" stroke="#000" stroke-width="1.4"/>
<rect x="53.98" y="192.62" width="3.43" height="68.48" fill="#a80c2a"/>
<line x1="55.67" y1="186.62" x2="55.67" y2="192.62" stroke="#000" stroke-width="1"/>
<line x1="54.23" y1="186.62" x2="57.11" y2="186.62" stroke="#000" stroke-width="1.4"/>
<rect x="57.36" y="188.38" width="3.43" height="72.72" fill="#62a644"/>
<line x1="59.05" y1="183.38" x2="59.05" y2="188.38" stroke="#000" stroke-width="1"/>
<line x1="57.61" y1="183.38" x2="60.49" y2="183.38" stroke="#000" stroke-width="1.4"/>
<rect x="60.74" y="191.56" width="3.43" height="69.54" fill="#efb57a"/>
<line x1="62.43" y1="186.56" x2="62.43" y2="191.56" stroke="#000" stroke-width="1"/>
<line x1="60.99" y1="186.56" x2="63.87" y2="186.56" stroke="#000" stroke-width="1.4"/>
<rect x="69.5" y="220.86" width="3.43" height="40.24" fill="#0a0a0a"/>
<line x1="71.19" y1="216.86" x2="71.19" y2="220.86" stroke="#000" stroke-width="1"/>
<line x1="69.75" y1="216.86" x2="72.63" y2="216.86" stroke="#000" stroke-width="1.4"/>
<rect x="72.88" y="218.39" width="3.43" height="42.71" fill="#a80c2a"/>
<line x1="74.57" y1="213.39" x2="74.57" y2="218.39" stroke="#000" stroke-width="1"/>
<line x1="73.13" y1="213.39" x2="76.01" y2="213.39" stroke="#000" stroke-width="1.4"/>
<rect x="76.26" y="220.15" width="3.43" height="40.95" fill="#62a644"/>
<line x1="77.95" y1="215.15" x2="77.95" y2="220.15" stroke="#000" stroke-width="1"/>
<line x1="76.51" y1="215.15" x2="79.39" y2="215.15" stroke="#000" stroke-width="1.4"/>
<rect x="79.64" y="220.15" width="3.43" height="40.95" fill="#efb57a"/>
<line x1="81.33" y1="215.15" x2="81.33" y2="220.15" stroke="#000" stroke-width="1"/>
<line x1="79.89" y1="215.15" x2="82.77" y2="215.15" stroke="#000" stroke-width="1.4"/>
<rect x="88.4" y="226.86" width="3.43" height="34.24" fill="#0a0a0a"/>
<line x1="90.09" y1="222.86" x2="90.09" y2="226.86" stroke="#000" stroke-width="1"/>
<line x1="88.65" y1="222.86" x2="91.53" y2="222.86" stroke="#000" stroke-width="1.4"/>
<rect x="91.78" y="227.57" width="3.43" height="33.53" fill="#a80c2a"/>
<line x1="93.47" y1="223.57" x2="93.47" y2="227.57" stroke="#000" stroke-width="1"/>
<line x1="92.03" y1="223.57" x2="94.91" y2="223.57" stroke="#000" stroke-width="1.4"/>
<rect x="95.16" y="226.29" width="3.43" height="34.81" fill="#62a644"/>
<line x1="96.85" y1="222.29" x2="96.85" y2="226.29" stroke="#000" stroke-width="1"/>
<line x1="95.41" y1="222.29" x2="98.29" y2="222.29" stroke="#000" stroke-width="1.4"/>
<rect x="98.54" y="227.92" width="3.43" height="33.18" fill="#efb57a"/>
<line x1="100.23" y1="223.92" x2="100.23" y2="227.92" stroke="#000" stroke-width="1"/>
<line x1="98.79" y1="223.92" x2="101.67" y2="223.92" stroke="#000" stroke-width="1.4"/>
<rect x="107.3" y="227.92" width="3.43" height="33.18" fill="#0a0a0a"/>
<line x1="108.99" y1="224.92" x2="108.99" y2="227.92" stroke="#000" stroke-width="1"/>
<line x1="107.55" y1="224.92" x2="110.43" y2="224.92" stroke="#000" stroke-width="1.4"/>
<rect x="110.68" y="229.33" width="3.43" height="31.77" fill="#a80c2a"/>
<line x1="112.37" y1="225.33" x2="112.37" y2="229.33" stroke="#000" stroke-width="1"/>
<line x1="110.93" y1="225.33" x2="113.81" y2="225.33" stroke="#000" stroke-width="1.4"/>
<rect x="114.06" y="227.57" width="3.43" height="33.53" fill="#62a644"/>
<line x1="115.75" y1="222.57" x2="115.75" y2="227.57" stroke="#000" stroke-width="1"/>
<line x1="114.31" y1="222.57" x2="117.19" y2="222.57" stroke="#000" stroke-width="1.4"/>
<rect x="117.44" y="228.27" width="3.43" height="32.83" fill="#efb57a"/>
<line x1="119.13" y1="224.27" x2="119.13" y2="228.27" stroke="#000" stroke-width="1"/>
<line x1="117.69" y1="224.27" x2="120.57" y2="224.27" stroke="#000" stroke-width="1.4"/>
<rect x="126.2" y="230.74" width="3.43" height="30.36" fill="#0a0a0a"/>
<line x1="127.89" y1="226.74" x2="127.89" y2="230.74" stroke="#000" stroke-width="1"/>
<line x1="126.45" y1="226.74" x2="129.33" y2="226.74" stroke="#000" stroke-width="1.4"/>
<rect x="129.58" y="230.21" width="3.43" height="30.89" fill="#a80c2a"/>
<line x1="131.27" y1="226.21" x2="131.27" y2="230.21" stroke="#000" stroke-width="1"/>
<line x1="129.83" y1="226.21" x2="132.71" y2="226.21" stroke="#000" stroke-width="1.4"/>
<rect x="132.96" y="231.8" width="3.43" height="29.3" fill="#62a644"/>
<line x1="134.65" y1="228.8" x2="134.65" y2="231.8" stroke="#000" stroke-width="1"/>
<line x1="133.21" y1="228.8" x2="136.09" y2="228.8" stroke="#000" stroke-width="1.4"/>
<rect x="136.34" y="231.45" width="3.43" height="29.65" fill="#efb57a"/>
<line x1="138.03" y1="228.45" x2="138.03" y2="231.45" stroke="#000" stroke-width="1"/>
<line x1="136.59" y1="228.45" x2="139.47" y2="228.45" stroke="#000" stroke-width="1.4"/>
<rect x="145.1" y="231.8" width="3.43" height="29.3" fill="#0a0a0a"/>
<line x1="146.79" y1="228.8" x2="146.79" y2="231.8" stroke="#000" stroke-width="1"/>
<line x1="145.35" y1="228.8" x2="148.23" y2="228.8" stroke="#000" stroke-width="1.4"/>
<rect x="148.48" y="231.8" width="3.43" height="29.3" fill="#a80c2a"/>
<line x1="150.17" y1="228.8" x2="150.17" y2="231.8" stroke="#000" stroke-width="1"/>
<line x1="148.73" y1="228.8" x2="151.61" y2="228.8" stroke="#000" stroke-width="1.4"/>
<rect x="151.86" y="234.1" width="3.43" height="27" fill="#62a644"/>
<line x1="153.55" y1="230.1" x2="153.55" y2="234.1" stroke="#000" stroke-width="1"/>
<line x1="152.11" y1="230.1" x2="154.99" y2="230.1" stroke="#000" stroke-width="1.4"/>
<rect x="155.24" y="232.51" width="3.43" height="28.59" fill="#efb57a"/>
<line x1="156.93" y1="228.51" x2="156.93" y2="232.51" stroke="#000" stroke-width="1"/>
<line x1="155.49" y1="228.51" x2="158.37" y2="228.51" stroke="#000" stroke-width="1.4"/>
<text transform="translate(182.6,164.3) scale(0.92,1)" font-size="12.2" text-anchor="start" font-weight="bold" fill="#000" stroke="#000" stroke-width="0.1">E</text>
<text transform="translate(282.7,162.26) scale(0.95,1)" font-size="9.2" text-anchor="middle" font-weight="normal" fill="#151515" stroke="#151515" stroke-width="0.22">Cell lines - Monoadducts -</text>
<text transform="translate(283,172.76) scale(0.95,1)" font-size="9.2" text-anchor="middle" font-weight="normal" fill="#151515" stroke="#151515" stroke-width="0.22">NO INH - (2-48h)</text>
<text transform="translate(194.49,221) rotate(-90) scale(0.93,1)" font-size="8.7" text-anchor="middle" fill="#151515" stroke="#151515" stroke-width="0.22">Monoadducts</text>
<text transform="translate(204.59,221) rotate(-90) scale(0.93,1)" font-size="8.7" text-anchor="middle" fill="#151515" stroke="#151515" stroke-width="0.22">(adducts/10<tspan font-size="6.09" dy="-3.31">6</tspan><tspan dy="3.31">nucl)</tspan></text>
<line x1="226.6" y1="177.8" x2="226.6" y2="261.65" stroke="#383838" stroke-width="1.5"/>
<line x1="223" y1="260.9" x2="226.6" y2="260.9" stroke="#383838" stroke-width="1.1"/>
<text transform="translate(221.6,263.1) scale(0.97,1)" font-size="6.4" text-anchor="end" font-weight="normal" fill="#151515" stroke="#151515" stroke-width="0.22">0</text>
<line x1="223" y1="247.43" x2="226.6" y2="247.43" stroke="#383838" stroke-width="1.1"/>
<text transform="translate(221.6,249.63) scale(0.97,1)" font-size="6.4" text-anchor="end" font-weight="normal" fill="#151515" stroke="#151515" stroke-width="0.22">20</text>
<line x1="223" y1="233.96" x2="226.6" y2="233.96" stroke="#383838" stroke-width="1.1"/>
<text transform="translate(221.6,236.16) scale(0.97,1)" font-size="6.4" text-anchor="end" font-weight="normal" fill="#151515" stroke="#151515" stroke-width="0.22">40</text>
<line x1="223" y1="220.49" x2="226.6" y2="220.49" stroke="#383838" stroke-width="1.1"/>
<text transform="translate(221.6,222.69) scale(0.97,1)" font-size="6.4" text-anchor="end" font-weight="normal" fill="#151515" stroke="#151515" stroke-width="0.22">60</text>
<line x1="223" y1="207.02" x2="226.6" y2="207.02" stroke="#383838" stroke-width="1.1"/>
<text transform="translate(221.6,209.22) scale(0.97,1)" font-size="6.4" text-anchor="end" font-weight="normal" fill="#151515" stroke="#151515" stroke-width="0.22">80</text>
<line x1="223" y1="193.55" x2="226.6" y2="193.55" stroke="#383838" stroke-width="1.1"/>
<text transform="translate(221.6,195.75) scale(0.97,1)" font-size="6.4" text-anchor="end" font-weight="normal" fill="#151515" stroke="#151515" stroke-width="0.22">100</text>
<line x1="223" y1="180.08" x2="226.6" y2="180.08" stroke="#383838" stroke-width="1.1"/>
<text transform="translate(221.6,182.28) scale(0.97,1)" font-size="6.4" text-anchor="end" font-weight="normal" fill="#151515" stroke="#151515" stroke-width="0.22">120</text>
<line x1="225.85" y1="260.9" x2="339.9" y2="260.9" stroke="#383838" stroke-width="1.5"/>
<line x1="233.6" y1="260.9" x2="233.6" y2="264.2" stroke="#383838" stroke-width="1.1"/>
<text transform="translate(233.6,272.8) scale(0.97,1)" font-size="6.4" text-anchor="middle" font-weight="normal" fill="#151515" stroke="#151515" stroke-width="0.22">0</text>
<line x1="249.98" y1="260.9" x2="249.98" y2="264.2" stroke="#383838" stroke-width="1.1"/>
<text transform="translate(249.98,272.8) scale(0.97,1)" font-size="6.4" text-anchor="middle" font-weight="normal" fill="#151515" stroke="#151515" stroke-width="0.22">8</text>
<line x1="266.35" y1="260.9" x2="266.35" y2="264.2" stroke="#383838" stroke-width="1.1"/>
<text transform="translate(266.35,272.8) scale(0.97,1)" font-size="6.4" text-anchor="middle" font-weight="normal" fill="#151515" stroke="#151515" stroke-width="0.22">16</text>
<line x1="282.73" y1="260.9" x2="282.73" y2="264.2" stroke="#383838" stroke-width="1.1"/>
<text transform="translate(282.73,272.8) scale(0.97,1)" font-size="6.4" text-anchor="middle" font-weight="normal" fill="#151515" stroke="#151515" stroke-width="0.22">24</text>
<line x1="299.1" y1="260.9" x2="299.1" y2="264.2" stroke="#383838" stroke-width="1.1"/>
<text transform="translate(299.1,272.8) scale(0.97,1)" font-size="6.4" text-anchor="middle" font-weight="normal" fill="#151515" stroke="#151515" stroke-width="0.22">32</text>
<line x1="315.48" y1="260.9" x2="315.48" y2="264.2" stroke="#383838" stroke-width="1.1"/>
<text transform="translate(315.48,272.8) scale(0.97,1)" font-size="6.4" text-anchor="middle" font-weight="normal" fill="#151515" stroke="#151515" stroke-width="0.22">40</text>
<line x1="331.86" y1="260.9" x2="331.86" y2="264.2" stroke="#383838" stroke-width="1.1"/>
<text transform="translate(331.86,272.8) scale(0.97,1)" font-size="6.4" text-anchor="middle" font-weight="normal" fill="#151515" stroke="#151515" stroke-width="0.22">48</text>
<text transform="translate(282.3,285.29) scale(0.89,1)" font-size="8.7" text-anchor="middle" font-weight="normal" fill="#151515" stroke="#151515" stroke-width="0.22">Post-incubation time (h)</text>
<polyline points="237.69,195.3 249.98,210.8 282.73,232.7 331.86,242.1" fill="none" stroke="#000" stroke-width="1.6" stroke-linejoin="round"/>
<line x1="237.69" y1="187" x2="237.69" y2="203" stroke="#000" stroke-width="1"/>
<line x1="235.99" y1="187" x2="239.39" y2="187" stroke="#000" stroke-width="1.3"/>
<line x1="235.99" y1="203" x2="239.39" y2="203" stroke="#000" stroke-width="1.3"/>
<circle cx="237.69" cy="195.3" r="1.4" fill="#000"/>
<line x1="249.98" y1="205" x2="249.98" y2="215.4" stroke="#000" stroke-width="1"/>
<line x1="248.28" y1="205" x2="251.68" y2="205" stroke="#000" stroke-width="1.3"/>
<line x1="248.28" y1="215.4" x2="251.68" y2="215.4" stroke="#000" stroke-width="1.3"/>
<circle cx="249.98" cy="210.8" r="1.4" fill="#000"/>
<line x1="282.73" y1="228.5" x2="282.73" y2="236.2" stroke="#000" stroke-width="1"/>
<line x1="281.03" y1="228.5" x2="284.43" y2="228.5" stroke="#000" stroke-width="1.3"/>
<line x1="281.03" y1="236.2" x2="284.43" y2="236.2" stroke="#000" stroke-width="1.3"/>
<circle cx="282.73" cy="232.7" r="1.4" fill="#000"/>
<line x1="331.86" y1="240" x2="331.86" y2="244.3" stroke="#000" stroke-width="1"/>
<line x1="330.16" y1="240" x2="333.56" y2="240" stroke="#000" stroke-width="1.3"/>
<line x1="330.16" y1="244.3" x2="333.56" y2="244.3" stroke="#000" stroke-width="1.3"/>
<circle cx="331.86" cy="242.1" r="1.4" fill="#000"/>
<polyline points="237.69,205.5 249.98,217.7 282.73,243.8 331.86,252.1" fill="none" stroke="#951a3a" stroke-width="1.6" stroke-linejoin="round"/>
<line x1="237.69" y1="196.9" x2="237.69" y2="210.8" stroke="#951a3a" stroke-width="1"/>
<line x1="235.99" y1="196.9" x2="239.39" y2="196.9" stroke="#951a3a" stroke-width="1.3"/>
<line x1="235.99" y1="210.8" x2="239.39" y2="210.8" stroke="#951a3a" stroke-width="1.3"/>
<circle cx="237.69" cy="205.5" r="1.4" fill="#951a3a"/>
<line x1="249.98" y1="212" x2="249.98" y2="223" stroke="#951a3a" stroke-width="1"/>
<line x1="248.28" y1="212" x2="251.68" y2="212" stroke="#951a3a" stroke-width="1.3"/>
<line x1="248.28" y1="223" x2="251.68" y2="223" stroke="#951a3a" stroke-width="1.3"/>
<circle cx="249.98" cy="217.7" r="1.4" fill="#951a3a"/>
<line x1="282.73" y1="243" x2="282.73" y2="244.6" stroke="#951a3a" stroke-width="1"/>
<line x1="281.03" y1="243" x2="284.43" y2="243" stroke="#951a3a" stroke-width="1.3"/>
<line x1="281.03" y1="244.6" x2="284.43" y2="244.6" stroke="#951a3a" stroke-width="1.3"/>
<circle cx="282.73" cy="243.8" r="1.4" fill="#951a3a"/>
<line x1="331.86" y1="250.5" x2="331.86" y2="253.6" stroke="#951a3a" stroke-width="1"/>
<line x1="330.16" y1="250.5" x2="333.56" y2="250.5" stroke="#951a3a" stroke-width="1.3"/>
<line x1="330.16" y1="253.6" x2="333.56" y2="253.6" stroke="#951a3a" stroke-width="1.3"/>
<circle cx="331.86" cy="252.1" r="1.4" fill="#951a3a"/>
<line x1="282.7" y1="191.8" x2="297" y2="191.8" stroke="#000" stroke-width="1.6"/>
<circle cx="289.85" cy="191.8" r="1.2" fill="#000"/>
<text transform="translate(299.3,193.8) scale(1,1)" font-size="5.8" text-anchor="start" font-weight="normal" fill="#2a2a2a" stroke="#2a2a2a" stroke-width="0.22">RPMI8226</text>
<line x1="282.7" y1="201.1" x2="297" y2="201.1" stroke="#951a3a" stroke-width="1.6"/>
<circle cx="289.85" cy="201.1" r="1.2" fill="#951a3a"/>
<text transform="translate(299.3,203.1) scale(1,1)" font-size="5.8" text-anchor="start" font-weight="normal" fill="#2a2a2a" stroke="#2a2a2a" stroke-width="0.22">LR5</text>
<text transform="translate(358.3,164.3) scale(0.92,1)" font-size="12.2" text-anchor="start" font-weight="bold" fill="#000" stroke="#000" stroke-width="0.1">F</text>
<text transform="translate(456.9,172.36) scale(0.95,1)" font-size="9.2" text-anchor="middle" font-weight="normal" fill="#151515" stroke="#151515" stroke-width="0.22">RPMI8226 - Monoadducts</text>
<rect x="477.6" y="183.3" width="10.9" height="3.9" fill="#0a0a0a"/>
<text transform="translate(491.9,187.25) scale(0.93,1)" font-size="5.8" text-anchor="start" font-weight="normal" fill="#2a2a2a" stroke="#2a2a2a" stroke-width="0.22">NO INH</text>
<rect x="477.6" y="192" width="10.9" height="3.9" fill="#a80c2a"/>
<text transform="translate(491.9,195.95) scale(0.93,1)" font-size="5.8" text-anchor="start" font-weight="normal" fill="#2a2a2a" stroke="#2a2a2a" stroke-width="0.22">NU7026</text>
<rect x="477.6" y="201.3" width="10.9" height="3.9" fill="#62a644"/>
<text transform="translate(491.9,205.25) scale(0.93,1)" font-size="5.8" text-anchor="start" font-weight="normal" fill="#2a2a2a" stroke="#2a2a2a" stroke-width="0.22">SCR7</text>
<rect x="477.6" y="210.5" width="10.9" height="3.9" fill="#efb57a"/>
<text transform="translate(491.9,214.45) scale(0.93,1)" font-size="5.8" text-anchor="start" font-weight="normal" fill="#2a2a2a" stroke="#2a2a2a" stroke-width="0.22">RI-1</text>
<text transform="translate(366.49,221) rotate(-90) scale(0.93,1)" font-size="8.7" text-anchor="middle" fill="#151515" stroke="#151515" stroke-width="0.22">Monoadducts</text>
<text transform="translate(375.79,221) rotate(-90) scale(0.93,1)" font-size="8.7" text-anchor="middle" fill="#151515" stroke="#151515" stroke-width="0.22">(adducts/10<tspan font-size="6.09" dy="-3.31">6</tspan><tspan dy="3.31">nucl)</tspan></text>
<line x1="397.3" y1="178" x2="397.3" y2="261.85" stroke="#383838" stroke-width="1.5"/>
<line x1="393.7" y1="261.1" x2="397.3" y2="261.1" stroke="#383838" stroke-width="1.1"/>
<text transform="translate(392.2,263.3) scale(0.97,1)" font-size="6.4" text-anchor="end" font-weight="normal" fill="#151515" stroke="#151515" stroke-width="0.22">0</text>
<line x1="393.7" y1="247.5" x2="397.3" y2="247.5" stroke="#383838" stroke-width="1.1"/>
<text transform="translate(392.2,249.7) scale(0.97,1)" font-size="6.4" text-anchor="end" font-weight="normal" fill="#151515" stroke="#151515" stroke-width="0.22">20</text>
<line x1="393.7" y1="233.9" x2="397.3" y2="233.9" stroke="#383838" stroke-width="1.1"/>
<text transform="translate(392.2,236.1) scale(0.97,1)" font-size="6.4" text-anchor="end" font-weight="normal" fill="#151515" stroke="#151515" stroke-width="0.22">40</text>
<line x1="393.7" y1="220.3" x2="397.3" y2="220.3" stroke="#383838" stroke-width="1.1"/>
<text transform="translate(392.2,222.5) scale(0.97,1)" font-size="6.4" text-anchor="end" font-weight="normal" fill="#151515" stroke="#151515" stroke-width="0.22">60</text>
<line x1="393.7" y1="206.7" x2="397.3" y2="206.7" stroke="#383838" stroke-width="1.1"/>
<text transform="translate(392.2,208.9) scale(0.97,1)" font-size="6.4" text-anchor="end" font-weight="normal" fill="#151515" stroke="#151515" stroke-width="0.22">80</text>
<line x1="393.7" y1="193.1" x2="397.3" y2="193.1" stroke="#383838" stroke-width="1.1"/>
<text transform="translate(392.2,195.3) scale(0.97,1)" font-size="6.4" text-anchor="end" font-weight="normal" fill="#151515" stroke="#151515" stroke-width="0.22">100</text>
<line x1="393.7" y1="179.5" x2="397.3" y2="179.5" stroke="#383838" stroke-width="1.1"/>
<text transform="translate(392.2,181.7) scale(0.97,1)" font-size="6.4" text-anchor="end" font-weight="normal" fill="#151515" stroke="#151515" stroke-width="0.22">120</text>
<line x1="396.55" y1="261.1" x2="513.3" y2="261.1" stroke="#383838" stroke-width="1.5"/>
<line x1="413.9" y1="261.1" x2="413.9" y2="264.4" stroke="#383838" stroke-width="1.1"/>
<text transform="translate(413.9,272.8) scale(0.97,1)" font-size="6.4" text-anchor="middle" font-weight="normal" fill="#151515" stroke="#151515" stroke-width="0.22">2</text>
<line x1="442.37" y1="261.1" x2="442.37" y2="264.4" stroke="#383838" stroke-width="1.1"/>
<text transform="translate(442.37,272.8) scale(0.97,1)" font-size="6.4" text-anchor="middle" font-weight="normal" fill="#151515" stroke="#151515" stroke-width="0.22">8</text>
<line x1="470.84" y1="261.1" x2="470.84" y2="264.4" stroke="#383838" stroke-width="1.1"/>
<text transform="translate(470.84,272.8) scale(0.97,1)" font-size="6.4" text-anchor="middle" font-weight="normal" fill="#151515" stroke="#151515" stroke-width="0.22">24</text>
<line x1="499.31" y1="261.1" x2="499.31" y2="264.4" stroke="#383838" stroke-width="1.1"/>
<text transform="translate(499.31,272.8) scale(0.97,1)" font-size="6.4" text-anchor="middle" font-weight="normal" fill="#151515" stroke="#151515" stroke-width="0.22">48</text>
<text transform="translate(453.9,285.29) scale(0.89,1)" font-size="8.7" text-anchor="middle" font-weight="normal" fill="#151515" stroke="#151515" stroke-width="0.22">Post-incubation time (h)</text>
<rect x="403.8" y="194.12" width="5.15" height="66.98" fill="#0a0a0a"/>
<line x1="406.35" y1="186.6" x2="406.35" y2="194.12" stroke="#000" stroke-width="1"/>
<line x1="404.65" y1="186.6" x2="408.05" y2="186.6" stroke="#000" stroke-width="1.4"/>
<rect x="408.9" y="196.5" width="5.15" height="64.6" fill="#a80c2a"/>
<line x1="411.45" y1="189.6" x2="411.45" y2="196.5" stroke="#000" stroke-width="1"/>
<line x1="409.75" y1="189.6" x2="413.15" y2="189.6" stroke="#000" stroke-width="1.4"/>
<rect x="414" y="198.13" width="5.15" height="62.97" fill="#62a644"/>
<line x1="416.55" y1="190.8" x2="416.55" y2="198.13" stroke="#000" stroke-width="1"/>
<line x1="414.85" y1="190.8" x2="418.25" y2="190.8" stroke="#000" stroke-width="1.4"/>
<rect x="419.1" y="198.68" width="5.15" height="62.42" fill="#efb57a"/>
<line x1="421.65" y1="192.4" x2="421.65" y2="198.68" stroke="#000" stroke-width="1"/>
<line x1="419.95" y1="192.4" x2="423.35" y2="192.4" stroke="#000" stroke-width="1.4"/>
<rect x="432.27" y="209.83" width="5.15" height="51.27" fill="#0a0a0a"/>
<line x1="434.82" y1="204.6" x2="434.82" y2="209.83" stroke="#000" stroke-width="1"/>
<line x1="433.12" y1="204.6" x2="436.52" y2="204.6" stroke="#000" stroke-width="1.4"/>
<rect x="437.37" y="206.84" width="5.15" height="54.26" fill="#a80c2a"/>
<line x1="439.92" y1="201.2" x2="439.92" y2="206.84" stroke="#000" stroke-width="1"/>
<line x1="438.22" y1="201.2" x2="441.62" y2="201.2" stroke="#000" stroke-width="1.4"/>
<rect x="442.47" y="210.3" width="5.15" height="50.8" fill="#62a644"/>
<line x1="445.02" y1="203.5" x2="445.02" y2="210.3" stroke="#000" stroke-width="1"/>
<line x1="443.32" y1="203.5" x2="446.72" y2="203.5" stroke="#000" stroke-width="1.4"/>
<rect x="447.57" y="212.14" width="5.15" height="48.96" fill="#efb57a"/>
<line x1="450.12" y1="206.2" x2="450.12" y2="212.14" stroke="#000" stroke-width="1"/>
<line x1="448.42" y1="206.2" x2="451.82" y2="206.2" stroke="#000" stroke-width="1.4"/>
<rect x="460.74" y="231.86" width="5.15" height="29.24" fill="#0a0a0a"/>
<line x1="463.29" y1="228.4" x2="463.29" y2="231.86" stroke="#000" stroke-width="1"/>
<line x1="461.59" y1="228.4" x2="464.99" y2="228.4" stroke="#000" stroke-width="1.4"/>
<rect x="465.84" y="225.74" width="5.15" height="35.36" fill="#a80c2a"/>
<line x1="468.39" y1="221.9" x2="468.39" y2="225.74" stroke="#000" stroke-width="1"/>
<line x1="466.69" y1="221.9" x2="470.09" y2="221.9" stroke="#000" stroke-width="1.4"/>
<rect x="470.94" y="230.5" width="5.15" height="30.6" fill="#62a644"/>
<line x1="473.49" y1="226.1" x2="473.49" y2="230.5" stroke="#000" stroke-width="1"/>
<line x1="471.79" y1="226.1" x2="475.19" y2="226.1" stroke="#000" stroke-width="1.4"/>
<rect x="476.04" y="228.73" width="5.15" height="32.37" fill="#efb57a"/>
<line x1="478.59" y1="224.2" x2="478.59" y2="228.73" stroke="#000" stroke-width="1"/>
<line x1="476.89" y1="224.2" x2="480.29" y2="224.2" stroke="#000" stroke-width="1.4"/>
<rect x="489.21" y="242.06" width="5.15" height="19.04" fill="#0a0a0a"/>
<line x1="491.76" y1="239.6" x2="491.76" y2="242.06" stroke="#000" stroke-width="1"/>
<line x1="490.06" y1="239.6" x2="493.46" y2="239.6" stroke="#000" stroke-width="1.4"/>
<rect x="494.31" y="243.96" width="5.15" height="17.14" fill="#a80c2a"/>
<line x1="496.86" y1="242" x2="496.86" y2="243.96" stroke="#000" stroke-width="1"/>
<line x1="495.16" y1="242" x2="498.56" y2="242" stroke="#000" stroke-width="1.4"/>
<rect x="499.41" y="247.36" width="5.15" height="13.74" fill="#62a644"/>
<line x1="501.96" y1="245.2" x2="501.96" y2="247.36" stroke="#000" stroke-width="1"/>
<line x1="500.26" y1="245.2" x2="503.66" y2="245.2" stroke="#000" stroke-width="1.4"/>
<rect x="504.51" y="247.16" width="5.15" height="13.94" fill="#efb57a"/>
<line x1="507.06" y1="244.7" x2="507.06" y2="247.16" stroke="#000" stroke-width="1"/>
<line x1="505.36" y1="244.7" x2="508.76" y2="244.7" stroke="#000" stroke-width="1.4"/>
<text transform="translate(8.2,314.2) scale(0.92,1)" font-size="12.2" text-anchor="start" font-weight="bold" fill="#000" stroke="#000" stroke-width="0.1">G</text>
<text transform="translate(104.1,313.26) scale(0.95,1)" font-size="9.2" text-anchor="middle" font-weight="normal" fill="#151515" stroke="#151515" stroke-width="0.22">LR5- Monoadducts</text>
<rect x="126.2" y="323.6" width="11.1" height="4.2" fill="#0a0a0a"/>
<text transform="translate(139.6,327.7) scale(0.93,1)" font-size="5.8" text-anchor="start" font-weight="normal" fill="#2a2a2a" stroke="#2a2a2a" stroke-width="0.22">NO INH</text>
<rect x="126.2" y="332.8" width="11.1" height="4.2" fill="#a80c2a"/>
<text transform="translate(139.6,336.9) scale(0.93,1)" font-size="5.8" text-anchor="start" font-weight="normal" fill="#2a2a2a" stroke="#2a2a2a" stroke-width="0.22">NU7026</text>
<rect x="126.2" y="342" width="11.1" height="4.2" fill="#62a644"/>
<text transform="translate(139.6,346.1) scale(0.93,1)" font-size="5.8" text-anchor="start" font-weight="normal" fill="#2a2a2a" stroke="#2a2a2a" stroke-width="0.22">SCR7</text>
<rect x="126.2" y="351.3" width="11.1" height="4.2" fill="#efb57a"/>
<text transform="translate(139.6,355.4) scale(0.93,1)" font-size="5.8" text-anchor="start" font-weight="normal" fill="#2a2a2a" stroke="#2a2a2a" stroke-width="0.22">RI-1</text>
<text transform="translate(15.49,362) rotate(-90) scale(0.93,1)" font-size="8.7" text-anchor="middle" fill="#151515" stroke="#151515" stroke-width="0.22">Monoadducts</text>
<text transform="translate(24.59,362) rotate(-90) scale(0.93,1)" font-size="8.7" text-anchor="middle" fill="#151515" stroke="#151515" stroke-width="0.22">(adducts/10<tspan font-size="6.09" dy="-3.31">6</tspan><tspan dy="3.31">nucl)</tspan></text>
<line x1="48.4" y1="318.4" x2="48.4" y2="403.15" stroke="#383838" stroke-width="1.5"/>
<line x1="44.8" y1="402.4" x2="48.4" y2="402.4" stroke="#383838" stroke-width="1.1"/>
<text transform="translate(42.5,404.6) scale(0.97,1)" font-size="6.4" text-anchor="end" font-weight="normal" fill="#151515" stroke="#151515" stroke-width="0.22">0</text>
<line x1="44.8" y1="388.83" x2="48.4" y2="388.83" stroke="#383838" stroke-width="1.1"/>
<text transform="translate(42.5,391.03) scale(0.97,1)" font-size="6.4" text-anchor="end" font-weight="normal" fill="#151515" stroke="#151515" stroke-width="0.22">20</text>
<line x1="44.8" y1="375.26" x2="48.4" y2="375.26" stroke="#383838" stroke-width="1.1"/>
<text transform="translate(42.5,377.46) scale(0.97,1)" font-size="6.4" text-anchor="end" font-weight="normal" fill="#151515" stroke="#151515" stroke-width="0.22">40</text>
<line x1="44.8" y1="361.69" x2="48.4" y2="361.69" stroke="#383838" stroke-width="1.1"/>
<text transform="translate(42.5,363.89) scale(0.97,1)" font-size="6.4" text-anchor="end" font-weight="normal" fill="#151515" stroke="#151515" stroke-width="0.22">60</text>
<line x1="44.8" y1="348.12" x2="48.4" y2="348.12" stroke="#383838" stroke-width="1.1"/>
<text transform="translate(42.5,350.32) scale(0.97,1)" font-size="6.4" text-anchor="end" font-weight="normal" fill="#151515" stroke="#151515" stroke-width="0.22">80</text>
<line x1="44.8" y1="334.55" x2="48.4" y2="334.55" stroke="#383838" stroke-width="1.1"/>
<text transform="translate(42.5,336.75) scale(0.97,1)" font-size="6.4" text-anchor="end" font-weight="normal" fill="#151515" stroke="#151515" stroke-width="0.22">100</text>
<line x1="44.8" y1="320.98" x2="48.4" y2="320.98" stroke="#383838" stroke-width="1.1"/>
<text transform="translate(42.5,323.18) scale(0.97,1)" font-size="6.4" text-anchor="end" font-weight="normal" fill="#151515" stroke="#151515" stroke-width="0.22">120</text>
<line x1="47.65" y1="402.4" x2="161.3" y2="402.4" stroke="#383838" stroke-width="1.5"/>
<line x1="62" y1="402.4" x2="62" y2="405.7" stroke="#383838" stroke-width="1.1"/>
<text transform="translate(62,415.5) scale(0.97,1)" font-size="6.4" text-anchor="middle" font-weight="normal" fill="#151515" stroke="#151515" stroke-width="0.22">2</text>
<line x1="90.37" y1="402.4" x2="90.37" y2="405.7" stroke="#383838" stroke-width="1.1"/>
<text transform="translate(90.37,415.5) scale(0.97,1)" font-size="6.4" text-anchor="middle" font-weight="normal" fill="#151515" stroke="#151515" stroke-width="0.22">8</text>
<line x1="118.74" y1="402.4" x2="118.74" y2="405.7" stroke="#383838" stroke-width="1.1"/>
<text transform="translate(118.74,415.5) scale(0.97,1)" font-size="6.4" text-anchor="middle" font-weight="normal" fill="#151515" stroke="#151515" stroke-width="0.22">24</text>
<line x1="147.11" y1="402.4" x2="147.11" y2="405.7" stroke="#383838" stroke-width="1.1"/>
<text transform="translate(147.11,415.5) scale(0.97,1)" font-size="6.4" text-anchor="middle" font-weight="normal" fill="#151515" stroke="#151515" stroke-width="0.22">48</text>
<text transform="translate(102.6,427.59) scale(0.89,1)" font-size="8.7" text-anchor="middle" font-weight="normal" fill="#151515" stroke="#151515" stroke-width="0.22">Post-incubation time (h)</text>
<rect x="51.9" y="345.88" width="5.1" height="56.52" fill="#0a0a0a"/>
<line x1="54.42" y1="340.3" x2="54.42" y2="345.88" stroke="#000" stroke-width="1"/>
<line x1="52.72" y1="340.3" x2="56.12" y2="340.3" stroke="#000" stroke-width="1.4"/>
<rect x="56.95" y="346.22" width="5.1" height="56.18" fill="#a80c2a"/>
<line x1="59.47" y1="340.8" x2="59.47" y2="346.22" stroke="#000" stroke-width="1"/>
<line x1="57.77" y1="340.8" x2="61.17" y2="340.8" stroke="#000" stroke-width="1.4"/>
<rect x="62" y="350.83" width="5.1" height="51.57" fill="#62a644"/>
<line x1="64.53" y1="345.4" x2="64.53" y2="350.83" stroke="#000" stroke-width="1"/>
<line x1="62.83" y1="345.4" x2="66.23" y2="345.4" stroke="#000" stroke-width="1.4"/>
<rect x="67.05" y="347.78" width="5.1" height="54.62" fill="#efb57a"/>
<line x1="69.58" y1="341.5" x2="69.58" y2="347.78" stroke="#000" stroke-width="1"/>
<line x1="67.88" y1="341.5" x2="71.28" y2="341.5" stroke="#000" stroke-width="1.4"/>
<rect x="80.27" y="358.98" width="5.1" height="43.42" fill="#0a0a0a"/>
<line x1="82.8" y1="353.9" x2="82.8" y2="358.98" stroke="#000" stroke-width="1"/>
<line x1="81.09" y1="353.9" x2="84.5" y2="353.9" stroke="#000" stroke-width="1.4"/>
<rect x="85.32" y="359.99" width="5.1" height="42.41" fill="#a80c2a"/>
<line x1="87.84" y1="355.3" x2="87.84" y2="359.99" stroke="#000" stroke-width="1"/>
<line x1="86.14" y1="355.3" x2="89.55" y2="355.3" stroke="#000" stroke-width="1.4"/>
<rect x="90.37" y="363.93" width="5.1" height="38.47" fill="#62a644"/>
<line x1="92.89" y1="358.5" x2="92.89" y2="363.93" stroke="#000" stroke-width="1"/>
<line x1="91.19" y1="358.5" x2="94.59" y2="358.5" stroke="#000" stroke-width="1.4"/>
<rect x="95.42" y="361.22" width="5.1" height="41.18" fill="#efb57a"/>
<line x1="97.94" y1="356.5" x2="97.94" y2="361.22" stroke="#000" stroke-width="1"/>
<line x1="96.24" y1="356.5" x2="99.64" y2="356.5" stroke="#000" stroke-width="1.4"/>
<rect x="108.64" y="385.23" width="5.1" height="17.17" fill="#0a0a0a"/>
<line x1="111.17" y1="382.3" x2="111.17" y2="385.23" stroke="#000" stroke-width="1"/>
<line x1="109.47" y1="382.3" x2="112.87" y2="382.3" stroke="#000" stroke-width="1.4"/>
<rect x="113.69" y="386.59" width="5.1" height="15.81" fill="#a80c2a"/>
<line x1="116.22" y1="384.6" x2="116.22" y2="386.59" stroke="#000" stroke-width="1"/>
<line x1="114.52" y1="384.6" x2="117.92" y2="384.6" stroke="#000" stroke-width="1.4"/>
<rect x="118.74" y="388.15" width="5.1" height="14.25" fill="#62a644"/>
<line x1="121.27" y1="386.2" x2="121.27" y2="388.15" stroke="#000" stroke-width="1"/>
<line x1="119.56" y1="386.2" x2="122.97" y2="386.2" stroke="#000" stroke-width="1.4"/>
<rect x="123.79" y="387.47" width="5.1" height="14.93" fill="#efb57a"/>
<line x1="126.31" y1="385.8" x2="126.31" y2="387.47" stroke="#000" stroke-width="1"/>
<line x1="124.61" y1="385.8" x2="128.01" y2="385.8" stroke="#000" stroke-width="1.4"/>
<rect x="137.01" y="393.1" width="5.1" height="9.3" fill="#0a0a0a"/>
<line x1="139.53" y1="391.3" x2="139.53" y2="393.1" stroke="#000" stroke-width="1"/>
<line x1="137.84" y1="391.3" x2="141.23" y2="391.3" stroke="#000" stroke-width="1.4"/>
<rect x="142.06" y="393.31" width="5.1" height="9.09" fill="#a80c2a"/>
<line x1="144.59" y1="392.6" x2="144.59" y2="393.31" stroke="#000" stroke-width="1"/>
<line x1="142.89" y1="392.6" x2="146.28" y2="392.6" stroke="#000" stroke-width="1.4"/>
<rect x="147.11" y="395.75" width="5.1" height="6.65" fill="#62a644"/>
<line x1="149.63" y1="394.7" x2="149.63" y2="395.75" stroke="#000" stroke-width="1"/>
<line x1="147.94" y1="394.7" x2="151.33" y2="394.7" stroke="#000" stroke-width="1.4"/>
<rect x="152.16" y="395.75" width="5.1" height="6.65" fill="#efb57a"/>
<line x1="154.69" y1="395.2" x2="154.69" y2="395.75" stroke="#000" stroke-width="1"/>
<line x1="152.99" y1="395.2" x2="156.38" y2="395.2" stroke="#000" stroke-width="1.4"/>
<text transform="translate(182.6,314.3) scale(0.92,1)" font-size="12.2" text-anchor="start" font-weight="bold" fill="#000" stroke="#000" stroke-width="0.1">H</text>
<text transform="translate(281.5,311.96) scale(0.95,1)" font-size="9.2" text-anchor="middle" font-weight="normal" fill="#151515" stroke="#151515" stroke-width="0.22">Cell lines - Monoadducts - AUC</text>
<rect x="301.2" y="318.6" width="10.3" height="4.4" fill="#0a0a0a"/>
<text transform="translate(313.9,322.8) scale(0.93,1)" font-size="5.8" text-anchor="start" font-weight="normal" fill="#2a2a2a" stroke="#2a2a2a" stroke-width="0.22">RPMI8226</text>
<rect x="301.2" y="327.8" width="10.3" height="4.4" fill="#a80c2a"/>
<text transform="translate(313.9,332) scale(0.93,1)" font-size="5.8" text-anchor="start" font-weight="normal" fill="#2a2a2a" stroke="#2a2a2a" stroke-width="0.22">LR5</text>
<text transform="translate(189.69,361) rotate(-90) scale(0.77,1)" font-size="8.7" text-anchor="middle" fill="#151515" stroke="#151515" stroke-width="0.22">AUC</text>
<text transform="translate(201.69,363.4) rotate(-90) scale(0.93,1)" font-size="8.7" text-anchor="middle" fill="#151515" stroke="#151515" stroke-width="0.22">[(adducts/10<tspan font-size="6.1" dy="-3.3">6</tspan><tspan dy="3.3">nucl) x h]</tspan></text>
<line x1="226.6" y1="322" x2="226.6" y2="402.95" stroke="#383838" stroke-width="1.5"/>
<line x1="223" y1="401.9" x2="226.6" y2="401.9" stroke="#383838" stroke-width="1.1"/>
<text transform="translate(221.6,404.1) scale(0.97,1)" font-size="6.4" text-anchor="end" font-weight="normal" fill="#151515" stroke="#151515" stroke-width="0.22">0</text>
<line x1="223" y1="390.93" x2="226.6" y2="390.93" stroke="#383838" stroke-width="1.1"/>
<text transform="translate(221.6,393.13) scale(0.97,1)" font-size="6.4" text-anchor="end" font-weight="normal" fill="#151515" stroke="#151515" stroke-width="0.22">500</text>
<line x1="223" y1="379.96" x2="226.6" y2="379.96" stroke="#383838" stroke-width="1.1"/>
<text transform="translate(221.6,382.16) scale(0.97,1)" font-size="6.4" text-anchor="end" font-weight="normal" fill="#151515" stroke="#151515" stroke-width="0.22">1000</text>
<line x1="223" y1="368.99" x2="226.6" y2="368.99" stroke="#383838" stroke-width="1.1"/>
<text transform="translate(221.6,371.19) scale(0.97,1)" font-size="6.4" text-anchor="end" font-weight="normal" fill="#151515" stroke="#151515" stroke-width="0.22">1500</text>
<line x1="223" y1="358.02" x2="226.6" y2="358.02" stroke="#383838" stroke-width="1.1"/>
<text transform="translate(221.6,360.22) scale(0.97,1)" font-size="6.4" text-anchor="end" font-weight="normal" fill="#151515" stroke="#151515" stroke-width="0.22">2000</text>
<line x1="223" y1="347.05" x2="226.6" y2="347.05" stroke="#383838" stroke-width="1.1"/>
<text transform="translate(221.6,349.25) scale(0.97,1)" font-size="6.4" text-anchor="end" font-weight="normal" fill="#151515" stroke="#151515" stroke-width="0.22">2500</text>
<line x1="223" y1="336.08" x2="226.6" y2="336.08" stroke="#383838" stroke-width="1.1"/>
<text transform="translate(221.6,338.28) scale(0.97,1)" font-size="6.4" text-anchor="end" font-weight="normal" fill="#151515" stroke="#151515" stroke-width="0.22">3000</text>
<line x1="223" y1="325.11" x2="226.6" y2="325.11" stroke="#383838" stroke-width="1.1"/>
<text transform="translate(221.6,327.31) scale(0.97,1)" font-size="6.4" text-anchor="end" font-weight="normal" fill="#151515" stroke="#151515" stroke-width="0.22">3500</text>
<line x1="225.85" y1="402.2" x2="340.2" y2="402.2" stroke="#383838" stroke-width="1.5"/>
<text transform="translate(241.15,413.41) scale(0.93,1)" font-size="7" text-anchor="middle" font-weight="normal" fill="#151515" stroke="#151515" stroke-width="0.22">NO INH</text>
<text transform="translate(269.55,413.41) scale(0.93,1)" font-size="7" text-anchor="middle" font-weight="normal" fill="#151515" stroke="#151515" stroke-width="0.22">NU7026</text>
<text transform="translate(297.95,413.41) scale(0.93,1)" font-size="7" text-anchor="middle" font-weight="normal" fill="#151515" stroke="#151515" stroke-width="0.22">SCR7</text>
<text transform="translate(326.35,413.41) scale(0.93,1)" font-size="7" text-anchor="middle" font-weight="normal" fill="#151515" stroke="#151515" stroke-width="0.22">RI-1</text>
<rect x="233.1" y="351.5" width="8.15" height="50.7" fill="#0a0a0a"/>
<line x1="237.15" y1="345" x2="237.15" y2="351.5" stroke="#000" stroke-width="1"/>
<line x1="235.45" y1="345" x2="238.85" y2="345" stroke="#000" stroke-width="1.4"/>
<rect x="241.2" y="366.6" width="8.15" height="35.6" fill="#a80c2a"/>
<line x1="245.25" y1="361.2" x2="245.25" y2="366.6" stroke="#000" stroke-width="1"/>
<line x1="243.55" y1="361.2" x2="246.95" y2="361.2" stroke="#000" stroke-width="1.4"/>
<rect x="261.5" y="348.15" width="8.15" height="54.05" fill="#0a0a0a"/>
<line x1="265.55" y1="341.5" x2="265.55" y2="348.15" stroke="#000" stroke-width="1"/>
<line x1="263.85" y1="341.5" x2="267.25" y2="341.5" stroke="#000" stroke-width="1.4"/>
<rect x="269.6" y="368.18" width="8.15" height="34.02" fill="#a80c2a"/>
<line x1="273.65" y1="363.5" x2="273.65" y2="368.18" stroke="#000" stroke-width="1"/>
<line x1="271.95" y1="363.5" x2="275.35" y2="363.5" stroke="#000" stroke-width="1.4"/>
<rect x="289.9" y="353.19" width="8.15" height="49.01" fill="#0a0a0a"/>
<line x1="293.95" y1="347.8" x2="293.95" y2="353.19" stroke="#000" stroke-width="1"/>
<line x1="292.25" y1="347.8" x2="295.65" y2="347.8" stroke="#000" stroke-width="1.4"/>
<rect x="298" y="372.06" width="8.15" height="30.14" fill="#a80c2a"/>
<line x1="302.05" y1="367.4" x2="302.05" y2="372.06" stroke="#000" stroke-width="1"/>
<line x1="300.35" y1="367.4" x2="303.75" y2="367.4" stroke="#000" stroke-width="1.4"/>
<rect x="318.3" y="352.64" width="8.15" height="49.56" fill="#0a0a0a"/>
<line x1="322.35" y1="346.2" x2="322.35" y2="352.64" stroke="#000" stroke-width="1"/>
<line x1="320.65" y1="346.2" x2="324.05" y2="346.2" stroke="#000" stroke-width="1.4"/>
<rect x="326.4" y="371.18" width="8.15" height="31.02" fill="#a80c2a"/>
<line x1="330.45" y1="365.2" x2="330.45" y2="371.18" stroke="#000" stroke-width="1"/>
<line x1="328.75" y1="365.2" x2="332.15" y2="365.2" stroke="#000" stroke-width="1.4"/>
<path d="M236.6 344 V342.2 H245.7 V344" fill="none" stroke="#111" stroke-width="1"/>
<text transform="translate(241.5,339.49) scale(0.95,1)" font-size="5.5" text-anchor="middle" font-weight="normal" fill="#151515" stroke="#151515" stroke-width="0.22"><tspan font-style="italic">P</tspan>=0.0104</text>
<path d="M265 341 V339.2 H274.1 V341" fill="none" stroke="#111" stroke-width="1"/>
<text transform="translate(269.9,336.09) scale(0.95,1)" font-size="5.5" text-anchor="middle" font-weight="normal" fill="#151515" stroke="#151515" stroke-width="0.22"><tspan font-style="italic">P</tspan>=0.0039</text>
<path d="M293.4 347.3 V345.5 H302.5 V347.3" fill="none" stroke="#111" stroke-width="1"/>
<text transform="translate(298.3,342.29) scale(0.95,1)" font-size="5.5" text-anchor="middle" font-weight="normal" fill="#151515" stroke="#151515" stroke-width="0.22"><tspan font-style="italic">P</tspan>=0.0039</text>
<path d="M321.8 345 V343.2 H330.9 V345" fill="none" stroke="#111" stroke-width="1"/>
<text transform="translate(326.7,340.69) scale(0.95,1)" font-size="5.5" text-anchor="middle" font-weight="normal" fill="#151515" stroke="#151515" stroke-width="0.22"><tspan font-style="italic">P</tspan>=0.0066</text>
<rect x="361.4" y="305.4" width="2.0" height="8.2" fill="#000"/>
<text transform="translate(440.5,339.13) scale(1.05,1)" font-size="9.4" text-anchor="middle" font-weight="normal" fill="#151515" stroke="#151515" stroke-width="0.08">N-ras gene</text>
<text transform="translate(393.2,351.93) scale(1,1)" font-size="9.4" text-anchor="middle" font-weight="normal" fill="#151515" stroke="#151515" stroke-width="0.08">FN3</text>
<text transform="translate(485.3,351.93) scale(1,1)" font-size="9.4" text-anchor="middle" font-weight="normal" fill="#151515" stroke="#151515" stroke-width="0.08">FN6</text>
<line x1="359.3" y1="366.4" x2="512.6" y2="366.4" stroke="#111" stroke-width="1.2"/>
<rect x="377.9" y="362.6" width="117.6" height="7.6" fill="#a8022c" stroke="#7c0a22" stroke-width="0.9"/>
<path d="M382.7 359 V357.3 H393.3 V355.8 M393.3 355.8 V357.3 H403.9 V359" fill="none" stroke="#111" stroke-width="1"/>
<path d="M478.9 359 V357.3 H485.2 V355.8 M485.2 355.8 V357.3 H491.5 V359" fill="none" stroke="#111" stroke-width="1"/>
<line x1="378.1" y1="374.5" x2="378.1" y2="383.3" stroke="#111" stroke-width="1.1"/>
<path d="M378.1 371.5 L376.5 375.8 L379.7 375.8 Z" fill="#111"/>
<line x1="495.4" y1="374.5" x2="495.4" y2="383.3" stroke="#111" stroke-width="1.1"/>
<path d="M495.4 371.5 L493.8 375.8 L497 375.8 Z" fill="#111"/>
<text transform="translate(377.5,392.93) scale(1.07,1)" font-size="9.4" text-anchor="middle" font-weight="normal" fill="#151515" stroke="#151515" stroke-width="0.08">5'-end</text>
<text transform="translate(495.5,392.93) scale(1.07,1)" font-size="9.4" text-anchor="middle" font-weight="normal" fill="#151515" stroke="#151515" stroke-width="0.08">3'-end</text>
<text transform="translate(8,456) scale(0.92,1)" font-size="12.2" text-anchor="start" font-weight="bold" fill="#000" stroke="#000" stroke-width="0.1">J</text>
<text transform="translate(62.2,455.31) scale(0.96,1)" font-size="7" text-anchor="middle" font-weight="normal" fill="#151515" stroke="#151515" stroke-width="0.22">FN3 fragment</text>
<text transform="translate(7.6,525.43) scale(0.95,1)" font-size="9.4" text-anchor="start" font-weight="normal" fill="#151515" stroke="#151515" stroke-width="0.22">T</text>
<line x1="16.9" y1="522.2" x2="26" y2="522.2" stroke="#222" stroke-width="1.2"/>
<text transform="translate(7.6,536.63) scale(0.95,1)" font-size="9.4" text-anchor="start" font-weight="normal" fill="#151515" stroke="#151515" stroke-width="0.22">D</text>
<line x1="16.9" y1="533.4" x2="26" y2="533.4" stroke="#222" stroke-width="1.2"/>
<text transform="translate(7.6,552.13) scale(0.95,1)" font-size="9.4" text-anchor="start" font-weight="normal" fill="#151515" stroke="#151515" stroke-width="0.22">M</text>
<line x1="16.9" y1="548.9" x2="26" y2="548.9" stroke="#222" stroke-width="1.2"/>
<g filter="url(#blg)">
<linearGradient id="g1" x1="0" y1="0" x2="0" y2="1"><stop offset="0" stop-color="#c2d6e3"/><stop offset="0.01" stop-color="#bad0df"/><stop offset="0.01" stop-color="#b6cedd"/><stop offset="0.02" stop-color="#bad0df"/><stop offset="0.02" stop-color="#c2d6e3"/><stop offset="0.03" stop-color="#c8dae7"/><stop offset="0.03" stop-color="#cbdce8"/><stop offset="0.04" stop-color="#cbdde8"/><stop offset="0.04" stop-color="#cbdde8"/><stop offset="0.05" stop-color="#cbdde8"/><stop offset="0.05" stop-color="#cbdde8"/><stop offset="0.06" stop-color="#cbdde8"/><stop offset="0.07" stop-color="#cbdde8"/><stop offset="0.07" stop-color="#cbdde8"/><stop offset="0.08" stop-color="#cbdde8"/><stop offset="0.08" stop-color="#cbdde8"/><stop offset="0.09" stop-color="#cbdde8"/><stop offset="0.09" stop-color="#cbdce8"/><stop offset="0.1" stop-color="#cbdce8"/><stop offset="0.1" stop-color="#cbdce8"/><stop offset="0.11" stop-color="#cbdce8"/><stop offset="0.12" stop-color="#cadce8"/><stop offset="0.12" stop-color="#cadce8"/><stop offset="0.13" stop-color="#cadce8"/><stop offset="0.13" stop-color="#cadce8"/><stop offset="0.14" stop-color="#cadce8"/><stop offset="0.14" stop-color="#cadce8"/><stop offset="0.15" stop-color="#cadce8"/><stop offset="0.15" stop-color="#cadce8"/><stop offset="0.16" stop-color="#cadce8"/><stop offset="0.16" stop-color="#cadce8"/><stop offset="0.17" stop-color="#cadce8"/><stop offset="0.18" stop-color="#cadce7"/><stop offset="0.18" stop-color="#cadce7"/><stop offset="0.19" stop-color="#cadce7"/><stop offset="0.19" stop-color="#c9dce7"/><stop offset="0.2" stop-color="#c9dbe7"/><stop offset="0.2" stop-color="#c9dbe7"/><stop offset="0.21" stop-color="#c9dbe7"/><stop offset="0.21" stop-color="#c9dbe7"/><stop offset="0.22" stop-color="#c9dbe7"/><stop offset="0.23" stop-color="#c9dbe7"/><stop offset="0.23" stop-color="#c9dbe7"/><stop offset="0.24" stop-color="#c9dbe7"/><stop offset="0.24" stop-color="#c9dbe7"/><stop offset="0.25" stop-color="#c9dbe7"/><stop offset="0.25" stop-color="#c9dbe7"/><stop offset="0.26" stop-color="#c9dbe7"/><stop offset="0.26" stop-color="#c9dbe7"/><stop offset="0.27" stop-color="#c8dbe7"/><stop offset="0.27" stop-color="#c8dbe7"/><stop offset="0.28" stop-color="#c8dbe7"/><stop offset="0.29" stop-color="#c8dbe7"/><stop offset="0.29" stop-color="#c8dbe7"/><stop offset="0.3" stop-color="#c8dbe7"/><stop offset="0.3" stop-color="#c8dae7"/><stop offset="0.31" stop-color="#c8dae7"/><stop offset="0.31" stop-color="#c8dae7"/><stop offset="0.32" stop-color="#c8dae6"/><stop offset="0.32" stop-color="#c8dae6"/><stop offset="0.33" stop-color="#c8dae6"/><stop offset="0.34" stop-color="#c8dae6"/><stop offset="0.34" stop-color="#c7dae6"/><stop offset="0.35" stop-color="#c7dae6"/><stop offset="0.35" stop-color="#c7dae6"/><stop offset="0.36" stop-color="#c7dae6"/><stop offset="0.36" stop-color="#c7dae6"/><stop offset="0.37" stop-color="#c7dae6"/><stop offset="0.37" stop-color="#c7dae6"/><stop offset="0.38" stop-color="#c7dae6"/><stop offset="0.38" stop-color="#c7dae6"/><stop offset="0.39" stop-color="#c7dae6"/><stop offset="0.4" stop-color="#c7dae6"/><stop offset="0.4" stop-color="#c7dae6"/><stop offset="0.41" stop-color="#c7dae6"/><stop offset="0.41" stop-color="#c7d9e6"/><stop offset="0.42" stop-color="#c6d9e6"/><stop offset="0.42" stop-color="#c6d9e6"/><stop offset="0.43" stop-color="#c6d9e6"/><stop offset="0.43" stop-color="#c6d9e6"/><stop offset="0.44" stop-color="#c6d9e6"/><stop offset="0.45" stop-color="#c6d9e6"/><stop offset="0.45" stop-color="#c6d9e6"/><stop offset="0.46" stop-color="#c6d9e6"/><stop offset="0.46" stop-color="#c6d9e6"/><stop offset="0.47" stop-color="#c6d9e5"/><stop offset="0.47" stop-color="#c6d9e5"/><stop offset="0.48" stop-color="#c6d9e5"/><stop offset="0.48" stop-color="#c6d9e5"/><stop offset="0.49" stop-color="#c6d9e5"/><stop offset="0.49" stop-color="#c5d9e5"/><stop offset="0.5" stop-color="#c5d9e5"/><stop offset="0.51" stop-color="#c5d9e5"/><stop offset="0.51" stop-color="#c5d9e5"/><stop offset="0.52" stop-color="#c5d8e5"/><stop offset="0.52" stop-color="#c5d8e5"/><stop offset="0.53" stop-color="#c5d8e5"/><stop offset="0.53" stop-color="#c5d8e5"/><stop offset="0.54" stop-color="#c5d8e5"/><stop offset="0.54" stop-color="#c5d8e5"/><stop offset="0.55" stop-color="#c5d8e5"/><stop offset="0.55" stop-color="#c5d8e5"/><stop offset="0.56" stop-color="#c5d8e5"/><stop offset="0.57" stop-color="#c5d8e5"/><stop offset="0.57" stop-color="#c4d8e5"/><stop offset="0.58" stop-color="#c4d8e5"/><stop offset="0.58" stop-color="#c4d8e5"/><stop offset="0.59" stop-color="#c4d8e5"/><stop offset="0.59" stop-color="#c4d8e5"/><stop offset="0.6" stop-color="#c4d8e5"/><stop offset="0.6" stop-color="#c4d8e5"/><stop offset="0.61" stop-color="#c4d8e5"/><stop offset="0.62" stop-color="#c4d8e4"/><stop offset="0.62" stop-color="#c4d7e4"/><stop offset="0.63" stop-color="#c4d7e4"/><stop offset="0.63" stop-color="#c4d7e4"/><stop offset="0.64" stop-color="#c4d7e4"/><stop offset="0.64" stop-color="#c3d7e4"/><stop offset="0.65" stop-color="#c3d7e4"/><stop offset="0.65" stop-color="#c3d7e4"/><stop offset="0.66" stop-color="#c3d7e4"/><stop offset="0.66" stop-color="#c3d7e4"/><stop offset="0.67" stop-color="#c3d7e4"/><stop offset="0.68" stop-color="#c3d7e4"/><stop offset="0.68" stop-color="#c3d7e4"/><stop offset="0.69" stop-color="#c3d7e4"/><stop offset="0.69" stop-color="#c3d7e4"/><stop offset="0.7" stop-color="#c3d7e4"/><stop offset="0.7" stop-color="#c3d7e4"/><stop offset="0.71" stop-color="#c3d7e4"/><stop offset="0.71" stop-color="#c3d7e4"/><stop offset="0.72" stop-color="#c2d7e4"/><stop offset="0.73" stop-color="#c2d7e4"/><stop offset="0.73" stop-color="#c2d6e4"/><stop offset="0.74" stop-color="#c2d6e4"/><stop offset="0.74" stop-color="#c2d6e4"/><stop offset="0.75" stop-color="#c2d6e4"/><stop offset="0.75" stop-color="#c2d6e4"/><stop offset="0.76" stop-color="#c2d6e3"/><stop offset="0.76" stop-color="#c2d6e3"/><stop offset="0.77" stop-color="#c2d6e3"/><stop offset="0.77" stop-color="#c2d6e3"/><stop offset="0.78" stop-color="#c2d6e3"/><stop offset="0.79" stop-color="#c2d6e3"/><stop offset="0.79" stop-color="#c2d6e3"/><stop offset="0.8" stop-color="#c1d6e3"/><stop offset="0.8" stop-color="#c1d6e3"/><stop offset="0.81" stop-color="#c1d6e3"/><stop offset="0.81" stop-color="#c1d6e3"/><stop offset="0.82" stop-color="#c1d6e3"/><stop offset="0.82" stop-color="#c1d6e3"/><stop offset="0.83" stop-color="#c1d6e3"/><stop offset="0.84" stop-color="#c1d5e3"/><stop offset="0.84" stop-color="#c1d5e3"/><stop offset="0.85" stop-color="#c1d5e3"/><stop offset="0.85" stop-color="#c1d5e3"/><stop offset="0.86" stop-color="#c1d5e3"/><stop offset="0.86" stop-color="#c1d5e3"/><stop offset="0.87" stop-color="#c1d5e3"/><stop offset="0.87" stop-color="#c0d5e3"/><stop offset="0.88" stop-color="#c0d5e3"/><stop offset="0.88" stop-color="#c0d5e3"/><stop offset="0.89" stop-color="#c0d5e3"/><stop offset="0.9" stop-color="#c0d5e3"/><stop offset="0.9" stop-color="#c0d5e3"/><stop offset="0.91" stop-color="#c0d5e2"/><stop offset="0.91" stop-color="#c0d5e2"/><stop offset="0.92" stop-color="#c0d5e2"/><stop offset="0.92" stop-color="#c0d5e2"/><stop offset="0.93" stop-color="#c0d5e2"/><stop offset="0.93" stop-color="#c0d5e2"/><stop offset="0.94" stop-color="#c0d4e2"/><stop offset="0.95" stop-color="#bfd4e2"/><stop offset="0.95" stop-color="#bfd4e2"/><stop offset="0.96" stop-color="#bfd4e2"/><stop offset="0.96" stop-color="#bfd4e2"/><stop offset="0.97" stop-color="#bfd4e2"/><stop offset="0.97" stop-color="#bfd4e2"/><stop offset="0.98" stop-color="#bfd4e2"/><stop offset="0.98" stop-color="#bfd4e2"/><stop offset="0.99" stop-color="#bfd4e2"/><stop offset="0.99" stop-color="#bfd4e2"/><stop offset="1" stop-color="#bfd4e2"/></linearGradient>
<rect x="29.4" y="464.2" width="28.8" height="91" fill="url(#g1)"/>
<linearGradient id="g2" x1="0" y1="0" x2="0" y2="1"><stop offset="0" stop-color="#9ebcd0"/><stop offset="0.01" stop-color="#8fafc5"/><stop offset="0.01" stop-color="#85a6be"/><stop offset="0.02" stop-color="#89aac2"/><stop offset="0.02" stop-color="#98b7cc"/><stop offset="0.03" stop-color="#a4c1d4"/><stop offset="0.03" stop-color="#a8c4d6"/><stop offset="0.04" stop-color="#aac5d7"/><stop offset="0.04" stop-color="#aac5d7"/><stop offset="0.05" stop-color="#aac5d7"/><stop offset="0.05" stop-color="#aac5d7"/><stop offset="0.06" stop-color="#a9c5d7"/><stop offset="0.07" stop-color="#a9c4d7"/><stop offset="0.07" stop-color="#a9c4d7"/><stop offset="0.08" stop-color="#a9c4d6"/><stop offset="0.08" stop-color="#a8c4d6"/><stop offset="0.09" stop-color="#a8c4d6"/><stop offset="0.09" stop-color="#a8c4d6"/><stop offset="0.1" stop-color="#a8c3d6"/><stop offset="0.1" stop-color="#a7c3d6"/><stop offset="0.11" stop-color="#a7c3d6"/><stop offset="0.12" stop-color="#a7c3d6"/><stop offset="0.12" stop-color="#a7c3d5"/><stop offset="0.13" stop-color="#a7c3d5"/><stop offset="0.13" stop-color="#a6c3d5"/><stop offset="0.14" stop-color="#a6c2d5"/><stop offset="0.14" stop-color="#a6c2d5"/><stop offset="0.15" stop-color="#a6c2d5"/><stop offset="0.15" stop-color="#a5c2d5"/><stop offset="0.16" stop-color="#a5c2d5"/><stop offset="0.16" stop-color="#a5c2d5"/><stop offset="0.17" stop-color="#a5c1d4"/><stop offset="0.18" stop-color="#a4c1d4"/><stop offset="0.18" stop-color="#a4c1d4"/><stop offset="0.19" stop-color="#a4c1d4"/><stop offset="0.19" stop-color="#a4c1d4"/><stop offset="0.2" stop-color="#a4c1d4"/><stop offset="0.2" stop-color="#a3c0d4"/><stop offset="0.21" stop-color="#a3c0d4"/><stop offset="0.21" stop-color="#a3c0d3"/><stop offset="0.22" stop-color="#a3c0d3"/><stop offset="0.23" stop-color="#a2c0d3"/><stop offset="0.23" stop-color="#a2c0d3"/><stop offset="0.24" stop-color="#a2bfd3"/><stop offset="0.24" stop-color="#a2bfd3"/><stop offset="0.25" stop-color="#a2bfd3"/><stop offset="0.25" stop-color="#a1bfd3"/><stop offset="0.26" stop-color="#a1bfd3"/><stop offset="0.26" stop-color="#a1bfd2"/><stop offset="0.27" stop-color="#a1bed2"/><stop offset="0.27" stop-color="#a0bed2"/><stop offset="0.28" stop-color="#a0bed2"/><stop offset="0.29" stop-color="#9fbdd1"/><stop offset="0.29" stop-color="#9dbbcf"/><stop offset="0.3" stop-color="#9ab9ce"/><stop offset="0.3" stop-color="#97b6cc"/><stop offset="0.31" stop-color="#94b4c9"/><stop offset="0.31" stop-color="#91b0c7"/><stop offset="0.32" stop-color="#8dadc4"/><stop offset="0.32" stop-color="#89aac1"/><stop offset="0.33" stop-color="#86a7bf"/><stop offset="0.34" stop-color="#84a5bd"/><stop offset="0.34" stop-color="#82a4bc"/><stop offset="0.35" stop-color="#82a3bc"/><stop offset="0.35" stop-color="#82a4bc"/><stop offset="0.36" stop-color="#83a4bd"/><stop offset="0.36" stop-color="#83a5bd"/><stop offset="0.37" stop-color="#83a4bd"/><stop offset="0.37" stop-color="#81a3bc"/><stop offset="0.38" stop-color="#7fa1ba"/><stop offset="0.38" stop-color="#7b9db7"/><stop offset="0.39" stop-color="#7699b3"/><stop offset="0.4" stop-color="#7094af"/><stop offset="0.4" stop-color="#6c90ac"/><stop offset="0.41" stop-color="#688da9"/><stop offset="0.41" stop-color="#678ca8"/><stop offset="0.42" stop-color="#678ca8"/><stop offset="0.42" stop-color="#698eaa"/><stop offset="0.43" stop-color="#6b90ac"/><stop offset="0.43" stop-color="#6e92ad"/><stop offset="0.44" stop-color="#6f93ae"/><stop offset="0.45" stop-color="#6e92ad"/><stop offset="0.45" stop-color="#6b8fab"/><stop offset="0.46" stop-color="#668ba7"/><stop offset="0.46" stop-color="#6086a3"/><stop offset="0.47" stop-color="#5a819f"/><stop offset="0.47" stop-color="#557c9b"/><stop offset="0.48" stop-color="#517998"/><stop offset="0.48" stop-color="#507797"/><stop offset="0.49" stop-color="#507797"/><stop offset="0.49" stop-color="#517998"/><stop offset="0.5" stop-color="#547b9a"/><stop offset="0.51" stop-color="#557c9b"/><stop offset="0.51" stop-color="#557c9b"/><stop offset="0.52" stop-color="#527a99"/><stop offset="0.52" stop-color="#4d7595"/><stop offset="0.53" stop-color="#48708f"/><stop offset="0.53" stop-color="#436a89"/><stop offset="0.54" stop-color="#3f6584"/><stop offset="0.54" stop-color="#3d6382"/><stop offset="0.55" stop-color="#3e6584"/><stop offset="0.55" stop-color="#426988"/><stop offset="0.56" stop-color="#486f8e"/><stop offset="0.57" stop-color="#4e7696"/><stop offset="0.57" stop-color="#557c9b"/><stop offset="0.58" stop-color="#59809e"/><stop offset="0.58" stop-color="#5b819f"/><stop offset="0.59" stop-color="#587f9e"/><stop offset="0.59" stop-color="#527a99"/><stop offset="0.6" stop-color="#497190"/><stop offset="0.6" stop-color="#3f6584"/><stop offset="0.61" stop-color="#335977"/><stop offset="0.62" stop-color="#284d6a"/><stop offset="0.62" stop-color="#204360"/><stop offset="0.63" stop-color="#1a3d59"/><stop offset="0.63" stop-color="#193b58"/><stop offset="0.64" stop-color="#1c3f5b"/><stop offset="0.64" stop-color="#234764"/><stop offset="0.65" stop-color="#2d526f"/><stop offset="0.65" stop-color="#395f7d"/><stop offset="0.66" stop-color="#456c8b"/><stop offset="0.66" stop-color="#507898"/><stop offset="0.67" stop-color="#5b82a0"/><stop offset="0.68" stop-color="#6489a6"/><stop offset="0.68" stop-color="#6a8fab"/><stop offset="0.69" stop-color="#6e92ad"/><stop offset="0.69" stop-color="#6f93ae"/><stop offset="0.7" stop-color="#6e92ad"/><stop offset="0.7" stop-color="#6a8fab"/><stop offset="0.71" stop-color="#6489a6"/><stop offset="0.71" stop-color="#5b819f"/><stop offset="0.72" stop-color="#4f7797"/><stop offset="0.73" stop-color="#426988"/><stop offset="0.73" stop-color="#345977"/><stop offset="0.74" stop-color="#244865"/><stop offset="0.74" stop-color="#163854"/><stop offset="0.75" stop-color="#102d46"/><stop offset="0.75" stop-color="#0c263d"/><stop offset="0.76" stop-color="#0b2339"/><stop offset="0.76" stop-color="#0b253b"/><stop offset="0.77" stop-color="#0e2a42"/><stop offset="0.77" stop-color="#13334e"/><stop offset="0.78" stop-color="#1e415e"/><stop offset="0.79" stop-color="#2d5270"/><stop offset="0.79" stop-color="#3c6381"/><stop offset="0.8" stop-color="#4a7191"/><stop offset="0.8" stop-color="#577d9c"/><stop offset="0.81" stop-color="#6187a4"/><stop offset="0.81" stop-color="#698eaa"/><stop offset="0.82" stop-color="#6e92ae"/><stop offset="0.82" stop-color="#7295b0"/><stop offset="0.83" stop-color="#7497b2"/><stop offset="0.84" stop-color="#7598b2"/><stop offset="0.84" stop-color="#7598b3"/><stop offset="0.85" stop-color="#7598b2"/><stop offset="0.85" stop-color="#7397b1"/><stop offset="0.86" stop-color="#7295b0"/><stop offset="0.86" stop-color="#6f93ae"/><stop offset="0.87" stop-color="#6b8fab"/><stop offset="0.87" stop-color="#668ba7"/><stop offset="0.88" stop-color="#5f85a2"/><stop offset="0.88" stop-color="#567d9c"/><stop offset="0.89" stop-color="#4c7494"/><stop offset="0.9" stop-color="#426988"/><stop offset="0.9" stop-color="#365c7a"/><stop offset="0.91" stop-color="#2a4f6c"/><stop offset="0.91" stop-color="#1e425e"/><stop offset="0.92" stop-color="#143551"/><stop offset="0.92" stop-color="#102e47"/><stop offset="0.93" stop-color="#0d283f"/><stop offset="0.93" stop-color="#0b243a"/><stop offset="0.94" stop-color="#0b2339"/><stop offset="0.95" stop-color="#0c253b"/><stop offset="0.95" stop-color="#0e2a41"/><stop offset="0.96" stop-color="#11314b"/><stop offset="0.96" stop-color="#183a56"/><stop offset="0.97" stop-color="#234764"/><stop offset="0.97" stop-color="#2f5472"/><stop offset="0.98" stop-color="#3b6180"/><stop offset="0.98" stop-color="#466d8d"/><stop offset="0.99" stop-color="#507898"/><stop offset="0.99" stop-color="#5a809f"/><stop offset="1" stop-color="#6287a5"/></linearGradient>
<rect x="32.4" y="464.2" width="21.4" height="91" fill="url(#g2)"/>
<linearGradient id="h3" x1="0" y1="0" x2="1" y2="0"><stop offset="0" stop-color="#ffffff" stop-opacity="0.25"/><stop offset="1" stop-color="#ffffff" stop-opacity="0"/></linearGradient>
<rect x="32.4" y="464.2" width="1.5" height="91" fill="url(#h3)"/>
<linearGradient id="h4" x1="0" y1="0" x2="1" y2="0"><stop offset="0" stop-color="#ffffff" stop-opacity="0"/><stop offset="1" stop-color="#ffffff" stop-opacity="0.35"/></linearGradient>
<rect x="50.8" y="464.2" width="3" height="91" fill="url(#h4)"/>
</g>
<ellipse cx="34.7" cy="488.3" rx="1.7" ry="1.1" fill="#08121e" filter="url(#bl1)"/>
<ellipse cx="37.3" cy="494.6" rx="1.1" ry="0.9" fill="#2b4a68" filter="url(#bl1)"/>
<circle cx="30.2" cy="480.6" r="0.6" fill="#8a9aaa"/>
<g filter="url(#blg)">
<linearGradient id="g5" x1="0" y1="0" x2="0" y2="1"><stop offset="0" stop-color="#acc6d8"/><stop offset="0.01" stop-color="#a3c0d4"/><stop offset="0.01" stop-color="#9fbdd1"/><stop offset="0.02" stop-color="#a3c0d3"/><stop offset="0.02" stop-color="#aac5d7"/><stop offset="0.03" stop-color="#b0c9da"/><stop offset="0.03" stop-color="#b2cbdc"/><stop offset="0.04" stop-color="#b3cbdc"/><stop offset="0.04" stop-color="#b3cbdc"/><stop offset="0.05" stop-color="#b2cbdb"/><stop offset="0.05" stop-color="#b2cbdb"/><stop offset="0.06" stop-color="#b1cadb"/><stop offset="0.07" stop-color="#b1cadb"/><stop offset="0.07" stop-color="#b0cada"/><stop offset="0.08" stop-color="#b0c9da"/><stop offset="0.08" stop-color="#b0c9da"/><stop offset="0.09" stop-color="#afc9da"/><stop offset="0.09" stop-color="#afc9da"/><stop offset="0.1" stop-color="#aec8d9"/><stop offset="0.1" stop-color="#aec8d9"/><stop offset="0.11" stop-color="#adc8d9"/><stop offset="0.12" stop-color="#adc7d9"/><stop offset="0.12" stop-color="#adc7d9"/><stop offset="0.13" stop-color="#acc7d8"/><stop offset="0.13" stop-color="#acc6d8"/><stop offset="0.14" stop-color="#abc6d8"/><stop offset="0.14" stop-color="#abc6d8"/><stop offset="0.15" stop-color="#aac5d7"/><stop offset="0.15" stop-color="#aac5d7"/><stop offset="0.16" stop-color="#aac5d7"/><stop offset="0.16" stop-color="#a9c5d7"/><stop offset="0.17" stop-color="#a9c4d7"/><stop offset="0.18" stop-color="#a8c4d6"/><stop offset="0.18" stop-color="#a8c4d6"/><stop offset="0.19" stop-color="#a8c3d6"/><stop offset="0.19" stop-color="#a7c3d6"/><stop offset="0.2" stop-color="#a7c3d5"/><stop offset="0.2" stop-color="#a6c2d5"/><stop offset="0.21" stop-color="#a6c2d5"/><stop offset="0.21" stop-color="#a5c2d5"/><stop offset="0.22" stop-color="#a5c2d5"/><stop offset="0.23" stop-color="#a5c1d4"/><stop offset="0.23" stop-color="#a4c1d4"/><stop offset="0.24" stop-color="#a4c1d4"/><stop offset="0.24" stop-color="#a3c0d4"/><stop offset="0.25" stop-color="#a3c0d3"/><stop offset="0.25" stop-color="#a2c0d3"/><stop offset="0.26" stop-color="#a2bfd3"/><stop offset="0.26" stop-color="#a2bfd3"/><stop offset="0.27" stop-color="#a1bfd3"/><stop offset="0.27" stop-color="#a1bed2"/><stop offset="0.28" stop-color="#a0bed2"/><stop offset="0.29" stop-color="#a0bed2"/><stop offset="0.29" stop-color="#9fbdd1"/><stop offset="0.3" stop-color="#9ebcd0"/><stop offset="0.3" stop-color="#9dbbd0"/><stop offset="0.31" stop-color="#9cbbcf"/><stop offset="0.31" stop-color="#9bbacf"/><stop offset="0.32" stop-color="#9bb9ce"/><stop offset="0.32" stop-color="#9ab8cd"/><stop offset="0.33" stop-color="#99b8cd"/><stop offset="0.34" stop-color="#98b7cc"/><stop offset="0.34" stop-color="#97b6cb"/><stop offset="0.35" stop-color="#96b5cb"/><stop offset="0.35" stop-color="#95b5ca"/><stop offset="0.36" stop-color="#94b4ca"/><stop offset="0.36" stop-color="#94b3c9"/><stop offset="0.37" stop-color="#93b2c8"/><stop offset="0.37" stop-color="#92b2c8"/><stop offset="0.38" stop-color="#91b1c7"/><stop offset="0.38" stop-color="#90b0c6"/><stop offset="0.39" stop-color="#8fafc6"/><stop offset="0.4" stop-color="#8eafc5"/><stop offset="0.4" stop-color="#8eaec5"/><stop offset="0.41" stop-color="#8dadc4"/><stop offset="0.41" stop-color="#8cacc3"/><stop offset="0.42" stop-color="#8bacc3"/><stop offset="0.42" stop-color="#8aabc2"/><stop offset="0.43" stop-color="#89aac1"/><stop offset="0.43" stop-color="#88a9c1"/><stop offset="0.44" stop-color="#88a9c0"/><stop offset="0.45" stop-color="#87a8c0"/><stop offset="0.45" stop-color="#86a7bf"/><stop offset="0.46" stop-color="#85a6be"/><stop offset="0.46" stop-color="#84a6be"/><stop offset="0.47" stop-color="#83a5bd"/><stop offset="0.47" stop-color="#82a4bc"/><stop offset="0.48" stop-color="#82a3bc"/><stop offset="0.48" stop-color="#81a3bb"/><stop offset="0.49" stop-color="#80a2ba"/><stop offset="0.49" stop-color="#7fa1ba"/><stop offset="0.5" stop-color="#7ea0b9"/><stop offset="0.51" stop-color="#7da0b9"/><stop offset="0.51" stop-color="#7c9fb8"/><stop offset="0.52" stop-color="#7c9eb7"/><stop offset="0.52" stop-color="#7b9db7"/><stop offset="0.53" stop-color="#7a9cb6"/><stop offset="0.53" stop-color="#799cb5"/><stop offset="0.54" stop-color="#789bb5"/><stop offset="0.54" stop-color="#779ab4"/><stop offset="0.55" stop-color="#7699b3"/><stop offset="0.55" stop-color="#7498b2"/><stop offset="0.56" stop-color="#7397b1"/><stop offset="0.57" stop-color="#7295b0"/><stop offset="0.57" stop-color="#7094af"/><stop offset="0.58" stop-color="#6e92ae"/><stop offset="0.58" stop-color="#6c91ac"/><stop offset="0.59" stop-color="#6a8fab"/><stop offset="0.59" stop-color="#688da9"/><stop offset="0.6" stop-color="#678ca8"/><stop offset="0.6" stop-color="#658aa7"/><stop offset="0.61" stop-color="#6388a5"/><stop offset="0.62" stop-color="#6287a4"/><stop offset="0.62" stop-color="#6086a3"/><stop offset="0.63" stop-color="#5f85a3"/><stop offset="0.63" stop-color="#5f85a2"/><stop offset="0.64" stop-color="#5e84a2"/><stop offset="0.64" stop-color="#5e84a2"/><stop offset="0.65" stop-color="#5e84a2"/><stop offset="0.65" stop-color="#5e84a2"/><stop offset="0.66" stop-color="#5d84a1"/><stop offset="0.66" stop-color="#5d83a1"/><stop offset="0.67" stop-color="#5c82a0"/><stop offset="0.68" stop-color="#5a819f"/><stop offset="0.68" stop-color="#587f9e"/><stop offset="0.69" stop-color="#567d9c"/><stop offset="0.69" stop-color="#527999"/><stop offset="0.7" stop-color="#4d7595"/><stop offset="0.7" stop-color="#497090"/><stop offset="0.71" stop-color="#446b8a"/><stop offset="0.71" stop-color="#3f6685"/><stop offset="0.72" stop-color="#3b6280"/><stop offset="0.73" stop-color="#395e7d"/><stop offset="0.73" stop-color="#375c7b"/><stop offset="0.74" stop-color="#375c7b"/><stop offset="0.74" stop-color="#385e7c"/><stop offset="0.75" stop-color="#3a607f"/><stop offset="0.75" stop-color="#3e6483"/><stop offset="0.76" stop-color="#426988"/><stop offset="0.76" stop-color="#476e8d"/><stop offset="0.77" stop-color="#4b7392"/><stop offset="0.77" stop-color="#4f7696"/><stop offset="0.78" stop-color="#527999"/><stop offset="0.79" stop-color="#547b9a"/><stop offset="0.79" stop-color="#557c9b"/><stop offset="0.8" stop-color="#557c9b"/><stop offset="0.8" stop-color="#537a9a"/><stop offset="0.81" stop-color="#507898"/><stop offset="0.81" stop-color="#4d7595"/><stop offset="0.82" stop-color="#497090"/><stop offset="0.82" stop-color="#446b8a"/><stop offset="0.83" stop-color="#3e6483"/><stop offset="0.84" stop-color="#375d7b"/><stop offset="0.84" stop-color="#2f5472"/><stop offset="0.85" stop-color="#274b69"/><stop offset="0.85" stop-color="#1f425e"/><stop offset="0.86" stop-color="#153854"/><stop offset="0.86" stop-color="#113049"/><stop offset="0.87" stop-color="#0d283f"/><stop offset="0.87" stop-color="#092135"/><stop offset="0.88" stop-color="#061a2c"/><stop offset="0.88" stop-color="#061a2c"/><stop offset="0.89" stop-color="#061a2c"/><stop offset="0.9" stop-color="#061a2c"/><stop offset="0.9" stop-color="#061a2c"/><stop offset="0.91" stop-color="#061a2c"/><stop offset="0.91" stop-color="#061a2c"/><stop offset="0.92" stop-color="#061a2c"/><stop offset="0.92" stop-color="#061a2c"/><stop offset="0.93" stop-color="#061a2c"/><stop offset="0.93" stop-color="#061a2c"/><stop offset="0.94" stop-color="#061a2c"/><stop offset="0.95" stop-color="#061a2c"/><stop offset="0.95" stop-color="#092135"/><stop offset="0.96" stop-color="#0d283f"/><stop offset="0.96" stop-color="#113049"/><stop offset="0.97" stop-color="#153854"/><stop offset="0.97" stop-color="#1f425e"/><stop offset="0.98" stop-color="#274b69"/><stop offset="0.98" stop-color="#305472"/><stop offset="0.99" stop-color="#375d7b"/><stop offset="0.99" stop-color="#3e6483"/><stop offset="1" stop-color="#446b8a"/></linearGradient>
<rect x="61.9" y="464.2" width="30.4" height="91" fill="url(#g5)"/>
<ellipse cx="77.2" cy="547.4" rx="13.6" ry="5.4" fill="#02070f"/>
<linearGradient id="h6" x1="0" y1="0" x2="1" y2="0"><stop offset="0" stop-color="#ffffff" stop-opacity="0.25"/><stop offset="1" stop-color="#ffffff" stop-opacity="0"/></linearGradient>
<rect x="61.9" y="464.2" width="2.5" height="91" fill="url(#h6)"/>
<linearGradient id="h7" x1="0" y1="0" x2="1" y2="0"><stop offset="0" stop-color="#ffffff" stop-opacity="0"/><stop offset="1" stop-color="#ffffff" stop-opacity="0.4"/></linearGradient>
<rect x="87.5" y="464.2" width="4.9" height="91" fill="url(#h7)"/>
</g>
<rect x="59.2" y="464.2" width="2.4" height="91" fill="#050505"/>
<text transform="translate(44.2,565.11) scale(0.95,1)" font-size="7" text-anchor="middle" font-weight="normal" fill="#151515" stroke="#151515" stroke-width="0.22">RPMI8226</text>
<text transform="translate(76,565.11) scale(0.95,1)" font-size="7" text-anchor="middle" font-weight="normal" fill="#151515" stroke="#151515" stroke-width="0.22">LR5</text>
<text transform="translate(148.5,455.5) scale(0.92,1)" font-size="12.2" text-anchor="start" font-weight="bold" fill="#000" stroke="#000" stroke-width="0.1">K</text>
<text transform="translate(201.5,456.11) scale(0.96,1)" font-size="7" text-anchor="middle" font-weight="normal" fill="#151515" stroke="#151515" stroke-width="0.22">FN6 fragment</text>
<text transform="translate(149.7,519.43) scale(0.95,1)" font-size="9.4" text-anchor="start" font-weight="normal" fill="#151515" stroke="#151515" stroke-width="0.22">T</text>
<line x1="158.8" y1="516.2" x2="167.5" y2="516.2" stroke="#222" stroke-width="1.2"/>
<text transform="translate(149.7,531.93) scale(0.95,1)" font-size="9.4" text-anchor="start" font-weight="normal" fill="#151515" stroke="#151515" stroke-width="0.22">D</text>
<line x1="158.8" y1="528.7" x2="167.5" y2="528.7" stroke="#222" stroke-width="1.2"/>
<text transform="translate(149.7,551.23) scale(0.95,1)" font-size="9.4" text-anchor="start" font-weight="normal" fill="#151515" stroke="#151515" stroke-width="0.22">M</text>
<line x1="158.8" y1="548" x2="167.5" y2="548" stroke="#222" stroke-width="1.2"/>
<g filter="url(#blg)">
<linearGradient id="g8" x1="0" y1="0" x2="0" y2="1"><stop offset="0" stop-color="#092034"/><stop offset="0.01" stop-color="#092034"/><stop offset="0.01" stop-color="#092034"/><stop offset="0.02" stop-color="#092035"/><stop offset="0.02" stop-color="#092135"/><stop offset="0.03" stop-color="#092135"/><stop offset="0.03" stop-color="#0a2136"/><stop offset="0.04" stop-color="#0a2136"/><stop offset="0.05" stop-color="#0a2236"/><stop offset="0.05" stop-color="#0a2237"/><stop offset="0.06" stop-color="#0a2237"/><stop offset="0.06" stop-color="#0a2237"/><stop offset="0.07" stop-color="#0a2338"/><stop offset="0.07" stop-color="#0a2338"/><stop offset="0.08" stop-color="#0b2338"/><stop offset="0.09" stop-color="#0b2339"/><stop offset="0.09" stop-color="#0b2439"/><stop offset="0.1" stop-color="#0b243a"/><stop offset="0.1" stop-color="#0b243a"/><stop offset="0.11" stop-color="#0b243a"/><stop offset="0.11" stop-color="#0b253a"/><stop offset="0.12" stop-color="#0b253b"/><stop offset="0.13" stop-color="#0b253a"/><stop offset="0.13" stop-color="#0b243a"/><stop offset="0.14" stop-color="#0b2439"/><stop offset="0.14" stop-color="#0b2338"/><stop offset="0.15" stop-color="#0a2237"/><stop offset="0.15" stop-color="#0a2236"/><stop offset="0.16" stop-color="#0a2136"/><stop offset="0.17" stop-color="#0a2236"/><stop offset="0.17" stop-color="#0a2237"/><stop offset="0.18" stop-color="#0b2439"/><stop offset="0.18" stop-color="#0c253b"/><stop offset="0.19" stop-color="#0c263d"/><stop offset="0.19" stop-color="#0d273e"/><stop offset="0.2" stop-color="#0d283f"/><stop offset="0.21" stop-color="#0d2840"/><stop offset="0.21" stop-color="#0e2941"/><stop offset="0.22" stop-color="#0e2a42"/><stop offset="0.22" stop-color="#0e2b42"/><stop offset="0.23" stop-color="#0e2b42"/><stop offset="0.24" stop-color="#0e2a42"/><stop offset="0.24" stop-color="#0e2a41"/><stop offset="0.25" stop-color="#0e2941"/><stop offset="0.25" stop-color="#0e2a41"/><stop offset="0.26" stop-color="#0f2b43"/><stop offset="0.26" stop-color="#102d46"/><stop offset="0.27" stop-color="#11304a"/><stop offset="0.28" stop-color="#12334e"/><stop offset="0.28" stop-color="#133551"/><stop offset="0.29" stop-color="#143652"/><stop offset="0.29" stop-color="#143551"/><stop offset="0.3" stop-color="#13344f"/><stop offset="0.3" stop-color="#12314b"/><stop offset="0.31" stop-color="#102f48"/><stop offset="0.32" stop-color="#0f2d45"/><stop offset="0.32" stop-color="#0f2d45"/><stop offset="0.33" stop-color="#102f48"/><stop offset="0.33" stop-color="#12324d"/><stop offset="0.34" stop-color="#163854"/><stop offset="0.34" stop-color="#1c3f5c"/><stop offset="0.35" stop-color="#224663"/><stop offset="0.36" stop-color="#264a67"/><stop offset="0.36" stop-color="#284c69"/><stop offset="0.37" stop-color="#274b68"/><stop offset="0.37" stop-color="#244865"/><stop offset="0.38" stop-color="#1f425f"/><stop offset="0.38" stop-color="#183b57"/><stop offset="0.39" stop-color="#133550"/><stop offset="0.4" stop-color="#12314b"/><stop offset="0.4" stop-color="#11304a"/><stop offset="0.41" stop-color="#12324d"/><stop offset="0.41" stop-color="#163854"/><stop offset="0.42" stop-color="#1e415e"/><stop offset="0.42" stop-color="#274b69"/><stop offset="0.43" stop-color="#2f5472"/><stop offset="0.44" stop-color="#345a78"/><stop offset="0.44" stop-color="#365b7a"/><stop offset="0.45" stop-color="#345977"/><stop offset="0.45" stop-color="#2e5270"/><stop offset="0.46" stop-color="#254966"/><stop offset="0.46" stop-color="#1c3f5b"/><stop offset="0.47" stop-color="#143551"/><stop offset="0.48" stop-color="#11314b"/><stop offset="0.48" stop-color="#11304a"/><stop offset="0.49" stop-color="#13334f"/><stop offset="0.49" stop-color="#1a3c59"/><stop offset="0.5" stop-color="#264a67"/><stop offset="0.5" stop-color="#335876"/><stop offset="0.51" stop-color="#3f6685"/><stop offset="0.52" stop-color="#497190"/><stop offset="0.52" stop-color="#507898"/><stop offset="0.53" stop-color="#547c9b"/><stop offset="0.53" stop-color="#547b9b"/><stop offset="0.54" stop-color="#507897"/><stop offset="0.54" stop-color="#497090"/><stop offset="0.55" stop-color="#3f6584"/><stop offset="0.56" stop-color="#325776"/><stop offset="0.56" stop-color="#254966"/><stop offset="0.57" stop-color="#1a3c59"/><stop offset="0.57" stop-color="#13344f"/><stop offset="0.58" stop-color="#11314b"/><stop offset="0.58" stop-color="#12324d"/><stop offset="0.59" stop-color="#183a56"/><stop offset="0.6" stop-color="#244865"/><stop offset="0.6" stop-color="#345977"/><stop offset="0.61" stop-color="#446b8a"/><stop offset="0.61" stop-color="#557c9b"/><stop offset="0.62" stop-color="#6489a6"/><stop offset="0.62" stop-color="#7194af"/><stop offset="0.63" stop-color="#7a9db6"/><stop offset="0.64" stop-color="#81a3bb"/><stop offset="0.64" stop-color="#85a7bf"/><stop offset="0.65" stop-color="#89aac1"/><stop offset="0.65" stop-color="#8cadc3"/><stop offset="0.66" stop-color="#8eaec5"/><stop offset="0.67" stop-color="#8fafc5"/><stop offset="0.67" stop-color="#8daec4"/><stop offset="0.68" stop-color="#8aabc2"/><stop offset="0.68" stop-color="#85a6be"/><stop offset="0.69" stop-color="#7c9eb8"/><stop offset="0.69" stop-color="#7094af"/><stop offset="0.7" stop-color="#6288a5"/><stop offset="0.71" stop-color="#537a99"/><stop offset="0.71" stop-color="#456c8b"/><stop offset="0.72" stop-color="#395f7e"/><stop offset="0.72" stop-color="#315674"/><stop offset="0.73" stop-color="#2d5270"/><stop offset="0.73" stop-color="#2f5472"/><stop offset="0.74" stop-color="#375c7b"/><stop offset="0.75" stop-color="#436a89"/><stop offset="0.75" stop-color="#547b9a"/><stop offset="0.76" stop-color="#698eaa"/><stop offset="0.76" stop-color="#7fa1ba"/><stop offset="0.77" stop-color="#93b2c8"/><stop offset="0.77" stop-color="#a4c1d4"/><stop offset="0.78" stop-color="#b0c9da"/><stop offset="0.79" stop-color="#bad0df"/><stop offset="0.79" stop-color="#c1d6e3"/><stop offset="0.8" stop-color="#c7dae6"/><stop offset="0.8" stop-color="#ccdde9"/><stop offset="0.81" stop-color="#d0e0eb"/><stop offset="0.81" stop-color="#d3e2ec"/><stop offset="0.82" stop-color="#d6e4ee"/><stop offset="0.83" stop-color="#d8e6ef"/><stop offset="0.83" stop-color="#d9e7ef"/><stop offset="0.84" stop-color="#d9e7ef"/><stop offset="0.84" stop-color="#d9e7ef"/><stop offset="0.85" stop-color="#d9e7ef"/><stop offset="0.85" stop-color="#d9e7ef"/><stop offset="0.86" stop-color="#d9e7ef"/><stop offset="0.87" stop-color="#d9e6ef"/><stop offset="0.87" stop-color="#d8e6ef"/><stop offset="0.88" stop-color="#d7e5ee"/><stop offset="0.88" stop-color="#d6e4ee"/><stop offset="0.89" stop-color="#d3e3ec"/><stop offset="0.89" stop-color="#d0e0eb"/><stop offset="0.9" stop-color="#ccdde9"/><stop offset="0.91" stop-color="#c6d9e5"/><stop offset="0.91" stop-color="#bfd4e2"/><stop offset="0.92" stop-color="#b6cedd"/><stop offset="0.92" stop-color="#adc7d9"/><stop offset="0.93" stop-color="#a4c1d4"/><stop offset="0.93" stop-color="#9bbace"/><stop offset="0.94" stop-color="#93b3c8"/><stop offset="0.95" stop-color="#8eaec5"/><stop offset="0.95" stop-color="#8dadc4"/><stop offset="0.96" stop-color="#90b0c6"/><stop offset="0.96" stop-color="#96b5cb"/><stop offset="0.97" stop-color="#9fbdd1"/><stop offset="0.97" stop-color="#a8c3d6"/><stop offset="0.98" stop-color="#b1cadb"/><stop offset="0.99" stop-color="#bad0df"/><stop offset="0.99" stop-color="#c2d6e3"/><stop offset="1" stop-color="#c8dbe7"/></linearGradient>
<rect x="172.2" y="463.8" width="26.3" height="87.2" fill="url(#g8)"/>
<linearGradient id="h9" x1="0" y1="0" x2="1" y2="0"><stop offset="0" stop-color="#ffffff" stop-opacity="0.35"/><stop offset="1" stop-color="#ffffff" stop-opacity="0"/></linearGradient>
<rect x="172.2" y="463.8" width="2.5" height="87.2" fill="url(#h9)"/>
<linearGradient id="h10" x1="0" y1="0" x2="1" y2="0"><stop offset="0" stop-color="#ffffff" stop-opacity="0"/><stop offset="1" stop-color="#ffffff" stop-opacity="0.6"/></linearGradient>
<rect x="194.3" y="463.8" width="4.2" height="87.2" fill="url(#h10)"/>
<linearGradient id="g11" x1="0" y1="0" x2="0" y2="1"><stop offset="0" stop-color="#0f2d45"/><stop offset="0.01" stop-color="#102d46"/><stop offset="0.01" stop-color="#102e46"/><stop offset="0.02" stop-color="#102e47"/><stop offset="0.02" stop-color="#102e47"/><stop offset="0.03" stop-color="#102e48"/><stop offset="0.03" stop-color="#102f48"/><stop offset="0.04" stop-color="#102f48"/><stop offset="0.05" stop-color="#102e47"/><stop offset="0.05" stop-color="#102e47"/><stop offset="0.06" stop-color="#102d46"/><stop offset="0.06" stop-color="#0f2d45"/><stop offset="0.07" stop-color="#0f2c44"/><stop offset="0.07" stop-color="#0f2c44"/><stop offset="0.08" stop-color="#0f2c44"/><stop offset="0.09" stop-color="#0f2c45"/><stop offset="0.09" stop-color="#102d46"/><stop offset="0.1" stop-color="#102e48"/><stop offset="0.1" stop-color="#11304a"/><stop offset="0.11" stop-color="#12314c"/><stop offset="0.11" stop-color="#12334e"/><stop offset="0.12" stop-color="#13344f"/><stop offset="0.13" stop-color="#133550"/><stop offset="0.13" stop-color="#133550"/><stop offset="0.14" stop-color="#13344f"/><stop offset="0.14" stop-color="#234764"/><stop offset="0.15" stop-color="#204360"/><stop offset="0.15" stop-color="#1c3f5c"/><stop offset="0.16" stop-color="#193c58"/><stop offset="0.17" stop-color="#183a57"/><stop offset="0.17" stop-color="#193b58"/><stop offset="0.18" stop-color="#1c3f5c"/><stop offset="0.18" stop-color="#214461"/><stop offset="0.19" stop-color="#254966"/><stop offset="0.19" stop-color="#284d6a"/><stop offset="0.2" stop-color="#294d6b"/><stop offset="0.21" stop-color="#274b69"/><stop offset="0.21" stop-color="#234764"/><stop offset="0.22" stop-color="#1e415e"/><stop offset="0.22" stop-color="#1a3c59"/><stop offset="0.23" stop-color="#183a56"/><stop offset="0.24" stop-color="#193b58"/><stop offset="0.24" stop-color="#1d405d"/><stop offset="0.25" stop-color="#244764"/><stop offset="0.25" stop-color="#2b4f6d"/><stop offset="0.26" stop-color="#315673"/><stop offset="0.26" stop-color="#345978"/><stop offset="0.27" stop-color="#355a79"/><stop offset="0.28" stop-color="#335876"/><stop offset="0.28" stop-color="#2e5370"/><stop offset="0.29" stop-color="#284c69"/><stop offset="0.29" stop-color="#224562"/><stop offset="0.3" stop-color="#1e415d"/><stop offset="0.3" stop-color="#1d405d"/><stop offset="0.31" stop-color="#204360"/><stop offset="0.32" stop-color="#264a67"/><stop offset="0.32" stop-color="#2c506e"/><stop offset="0.33" stop-color="#305573"/><stop offset="0.33" stop-color="#315674"/><stop offset="0.34" stop-color="#2f5472"/><stop offset="0.34" stop-color="#2b4f6d"/><stop offset="0.35" stop-color="#274a68"/><stop offset="0.36" stop-color="#244865"/><stop offset="0.36" stop-color="#264967"/><stop offset="0.37" stop-color="#2a4e6c"/><stop offset="0.37" stop-color="#305573"/><stop offset="0.38" stop-color="#365c7a"/><stop offset="0.38" stop-color="#3a607e"/><stop offset="0.39" stop-color="#3a607e"/><stop offset="0.4" stop-color="#365b7a"/><stop offset="0.4" stop-color="#305573"/><stop offset="0.41" stop-color="#2b4f6d"/><stop offset="0.41" stop-color="#284c69"/><stop offset="0.42" stop-color="#294e6b"/><stop offset="0.42" stop-color="#2f5472"/><stop offset="0.43" stop-color="#375d7b"/><stop offset="0.44" stop-color="#406786"/><stop offset="0.44" stop-color="#486f8f"/><stop offset="0.45" stop-color="#4d7494"/><stop offset="0.45" stop-color="#4e7696"/><stop offset="0.46" stop-color="#4d7494"/><stop offset="0.46" stop-color="#486f8f"/><stop offset="0.47" stop-color="#406786"/><stop offset="0.48" stop-color="#385d7c"/><stop offset="0.48" stop-color="#305573"/><stop offset="0.49" stop-color="#2b4f6d"/><stop offset="0.49" stop-color="#2a4e6c"/><stop offset="0.5" stop-color="#2e5371"/><stop offset="0.5" stop-color="#365c7a"/><stop offset="0.51" stop-color="#406786"/><stop offset="0.52" stop-color="#4a7292"/><stop offset="0.52" stop-color="#537b9a"/><stop offset="0.53" stop-color="#5a809f"/><stop offset="0.53" stop-color="#5d83a1"/><stop offset="0.54" stop-color="#5c83a1"/><stop offset="0.54" stop-color="#597f9e"/><stop offset="0.55" stop-color="#527999"/><stop offset="0.56" stop-color="#497190"/><stop offset="0.56" stop-color="#406786"/><stop offset="0.57" stop-color="#375d7b"/><stop offset="0.57" stop-color="#305573"/><stop offset="0.58" stop-color="#2d526f"/><stop offset="0.58" stop-color="#2e5371"/><stop offset="0.59" stop-color="#345978"/><stop offset="0.6" stop-color="#3d6382"/><stop offset="0.6" stop-color="#476f8e"/><stop offset="0.61" stop-color="#527a99"/><stop offset="0.61" stop-color="#5c82a0"/><stop offset="0.62" stop-color="#6388a5"/><stop offset="0.62" stop-color="#668ba7"/><stop offset="0.63" stop-color="#648aa6"/><stop offset="0.64" stop-color="#6086a3"/><stop offset="0.64" stop-color="#5a809e"/><stop offset="0.65" stop-color="#537a99"/><stop offset="0.65" stop-color="#4d7595"/><stop offset="0.66" stop-color="#4b7292"/><stop offset="0.67" stop-color="#4c7493"/><stop offset="0.67" stop-color="#507898"/><stop offset="0.68" stop-color="#587f9d"/><stop offset="0.68" stop-color="#6086a3"/><stop offset="0.69" stop-color="#678ca8"/><stop offset="0.69" stop-color="#6b8fab"/><stop offset="0.7" stop-color="#6b90ab"/><stop offset="0.71" stop-color="#688da9"/><stop offset="0.71" stop-color="#6187a4"/><stop offset="0.72" stop-color="#587f9d"/><stop offset="0.72" stop-color="#4e7696"/><stop offset="0.73" stop-color="#466d8d"/><stop offset="0.73" stop-color="#416786"/><stop offset="0.74" stop-color="#3f6584"/><stop offset="0.75" stop-color="#416786"/><stop offset="0.75" stop-color="#466d8d"/><stop offset="0.76" stop-color="#4e7696"/><stop offset="0.76" stop-color="#5a809f"/><stop offset="0.77" stop-color="#658aa7"/><stop offset="0.77" stop-color="#6f93ae"/><stop offset="0.78" stop-color="#779ab4"/><stop offset="0.79" stop-color="#7c9fb8"/><stop offset="0.79" stop-color="#80a2ba"/><stop offset="0.8" stop-color="#82a4bc"/><stop offset="0.8" stop-color="#84a5bd"/><stop offset="0.81" stop-color="#85a7bf"/><stop offset="0.81" stop-color="#88a9c0"/><stop offset="0.82" stop-color="#8babc2"/><stop offset="0.83" stop-color="#8eaec5"/><stop offset="0.83" stop-color="#92b2c8"/><stop offset="0.84" stop-color="#96b5cb"/><stop offset="0.84" stop-color="#9ab9ce"/><stop offset="0.85" stop-color="#9ebcd0"/><stop offset="0.85" stop-color="#a0bed2"/><stop offset="0.86" stop-color="#a3c0d3"/><stop offset="0.87" stop-color="#a4c1d4"/><stop offset="0.87" stop-color="#a6c2d5"/><stop offset="0.88" stop-color="#a7c3d6"/><stop offset="0.88" stop-color="#a9c4d7"/><stop offset="0.89" stop-color="#aac5d7"/><stop offset="0.89" stop-color="#abc6d8"/><stop offset="0.9" stop-color="#adc7d9"/><stop offset="0.91" stop-color="#aec8d9"/><stop offset="0.91" stop-color="#afc9da"/><stop offset="0.92" stop-color="#b0cada"/><stop offset="0.92" stop-color="#b2cbdb"/><stop offset="0.93" stop-color="#b3ccdc"/><stop offset="0.93" stop-color="#b4ccdc"/><stop offset="0.94" stop-color="#b5cddd"/><stop offset="0.95" stop-color="#b6cedd"/><stop offset="0.95" stop-color="#b6cedd"/><stop offset="0.96" stop-color="#b6cedd"/><stop offset="0.96" stop-color="#b6cedd"/><stop offset="0.97" stop-color="#b6cedd"/><stop offset="0.97" stop-color="#b6cedd"/><stop offset="0.98" stop-color="#b6cedd"/><stop offset="0.99" stop-color="#b6cedd"/><stop offset="0.99" stop-color="#b6cedd"/><stop offset="1" stop-color="#b6cedd"/></linearGradient>
<rect x="203.3" y="463.8" width="28.2" height="87.2" fill="url(#g11)"/>
<linearGradient id="h12" x1="0" y1="0" x2="1" y2="0"><stop offset="0" stop-color="#ffffff" stop-opacity="0.35"/><stop offset="1" stop-color="#ffffff" stop-opacity="0"/></linearGradient>
<rect x="203.3" y="463.8" width="2.5" height="87.2" fill="url(#h12)"/>
<linearGradient id="h13" x1="0" y1="0" x2="1" y2="0"><stop offset="0" stop-color="#ffffff" stop-opacity="0"/><stop offset="1" stop-color="#ffffff" stop-opacity="0.55"/></linearGradient>
<rect x="227.3" y="463.8" width="4.2" height="87.2" fill="url(#h13)"/>
</g>
<rect x="200.8" y="463.8" width="1.9" height="90.9" fill="#050505"/>
<text transform="translate(186.8,565.41) scale(0.95,1)" font-size="7" text-anchor="middle" font-weight="normal" fill="#151515" stroke="#151515" stroke-width="0.22">RPMI8226</text>
<text transform="translate(217.5,565.41) scale(0.95,1)" font-size="7" text-anchor="middle" font-weight="normal" fill="#151515" stroke="#151515" stroke-width="0.22">LR5</text>
<rect x="0.5" y="0.5" width="519" height="574" fill="none" stroke="#000" stroke-width="1"/>
</svg>
</body></html>
